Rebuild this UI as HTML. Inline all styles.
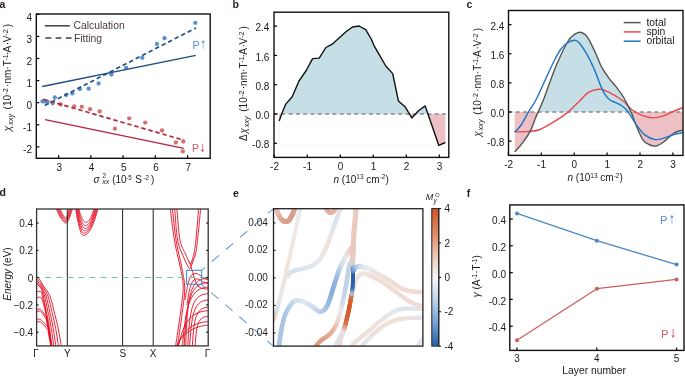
<!DOCTYPE html>
<html><head><meta charset="utf-8"><title>figure</title>
<style>html,body{margin:0;padding:0;background:#fff;width:685px;height:376px;overflow:hidden}svg{display:block;will-change:transform}text{font-family:"Liberation Sans",sans-serif}</style>
</head><body>
<svg width="685" height="376" viewBox="0 0 685 376">
<rect width="685" height="376" fill="#fff"/>
<text x="-0.50" y="7.70" font-size="10.5" text-anchor="start" fill="#2a1c1c" font-weight="bold">a</text>
<text x="232.40" y="7.70" font-size="10.5" text-anchor="start" fill="#2a1c1c" font-weight="bold">b</text>
<text x="466.60" y="7.70" font-size="10.5" text-anchor="start" fill="#2a1c1c" font-weight="bold">c</text>
<text x="-0.40" y="196.00" font-size="10.5" text-anchor="start" fill="#2a1c1c" font-weight="bold">d</text>
<text x="233.00" y="197.00" font-size="10.5" text-anchor="start" fill="#2a1c1c" font-weight="bold">e</text>
<text x="466.80" y="196.50" font-size="10.5" text-anchor="start" fill="#2a1c1c" font-weight="bold">f</text>
<circle cx="60.7" cy="104.5" r="2.15" fill="#d0605f" fill-opacity="0.9"/>
<circle cx="74.2" cy="106.3" r="2.15" fill="#d0605f" fill-opacity="0.9"/>
<circle cx="81.8" cy="106.8" r="2.15" fill="#d0605f" fill-opacity="0.9"/>
<circle cx="90" cy="109.2" r="2.15" fill="#d0605f" fill-opacity="0.9"/>
<circle cx="99.7" cy="111.4" r="2.15" fill="#d0605f" fill-opacity="0.9"/>
<circle cx="114.9" cy="128.7" r="2.15" fill="#d0605f" fill-opacity="0.9"/>
<circle cx="129.2" cy="118.3" r="2.15" fill="#d0605f" fill-opacity="0.9"/>
<circle cx="145.2" cy="122.6" r="2.15" fill="#d0605f" fill-opacity="0.9"/>
<circle cx="162" cy="130.4" r="2.15" fill="#d0605f" fill-opacity="0.9"/>
<circle cx="175.9" cy="142.5" r="2.15" fill="#d0605f" fill-opacity="0.9"/>
<circle cx="183.3" cy="141.5" r="2.15" fill="#d0605f" fill-opacity="0.9"/>
<circle cx="182.8" cy="151.4" r="2.15" fill="#d0605f" fill-opacity="0.9"/>
<circle cx="42.5" cy="101.4" r="2.15" fill="#4f8ccb" fill-opacity="0.95"/>
<circle cx="45.2" cy="101.6" r="2.15" fill="#4f8ccb" fill-opacity="0.95"/>
<circle cx="47.6" cy="101.8" r="2.15" fill="#4f8ccb" fill-opacity="0.95"/>
<circle cx="52.6" cy="103.3" r="2.15" fill="#4f8ccb" fill-opacity="0.95"/>
<circle cx="54.9" cy="97.5" r="2.15" fill="#4f8ccb" fill-opacity="0.95"/>
<circle cx="66.2" cy="95.1" r="2.15" fill="#4f8ccb" fill-opacity="0.95"/>
<circle cx="72.3" cy="93.4" r="2.15" fill="#4f8ccb" fill-opacity="0.95"/>
<circle cx="79.9" cy="89.1" r="2.15" fill="#4f8ccb" fill-opacity="0.95"/>
<circle cx="88.7" cy="88.7" r="2.15" fill="#4f8ccb" fill-opacity="0.95"/>
<circle cx="98.6" cy="83.5" r="2.15" fill="#4f8ccb" fill-opacity="0.95"/>
<circle cx="111.4" cy="74.6" r="2.15" fill="#4f8ccb" fill-opacity="0.95"/>
<circle cx="126.2" cy="67.9" r="2.15" fill="#4f8ccb" fill-opacity="0.95"/>
<circle cx="142.3" cy="57.8" r="2.15" fill="#4f8ccb" fill-opacity="0.95"/>
<circle cx="156.9" cy="43.9" r="2.15" fill="#4f8ccb" fill-opacity="0.95"/>
<circle cx="164.5" cy="38.2" r="2.15" fill="#4f8ccb" fill-opacity="0.95"/>
<circle cx="195.3" cy="22.8" r="2.15" fill="#4f8ccb" fill-opacity="0.95"/>
<line x1="42.20" y1="86.50" x2="195.80" y2="55.40" stroke="#1f4f82" stroke-width="1.3" />
<line x1="42.20" y1="106.80" x2="195.90" y2="27.90" stroke="#1f4f82" stroke-width="1.7" stroke-dasharray="4.3,3.0" stroke-dashoffset="4.4"/>
<line x1="45.00" y1="119.60" x2="183.80" y2="148.30" stroke="#b4243a" stroke-width="1.3" />
<line x1="42.20" y1="99.00" x2="183.80" y2="140.20" stroke="#b4243a" stroke-width="1.7" stroke-dasharray="4.4,2.9" stroke-dashoffset="6.2"/>
<rect x="36.30" y="14.00" width="173.90" height="144.30" fill="none" stroke="#111" stroke-width="1.4"/>
<line x1="36.30" y1="146.90" x2="39.30" y2="146.90" stroke="#000" stroke-width="1.2" />
<text x="32.00" y="153.20" font-size="10" text-anchor="end" fill="#1a1a1a" >-2</text>
<line x1="36.30" y1="124.80" x2="39.30" y2="124.80" stroke="#000" stroke-width="1.2" />
<text x="32.00" y="131.10" font-size="10" text-anchor="end" fill="#1a1a1a" >-1</text>
<line x1="36.30" y1="102.70" x2="39.30" y2="102.70" stroke="#000" stroke-width="1.2" />
<text x="32.00" y="109.00" font-size="10" text-anchor="end" fill="#1a1a1a" >0</text>
<line x1="36.30" y1="80.60" x2="39.30" y2="80.60" stroke="#000" stroke-width="1.2" />
<text x="32.00" y="86.90" font-size="10" text-anchor="end" fill="#1a1a1a" >1</text>
<line x1="36.30" y1="58.50" x2="39.30" y2="58.50" stroke="#000" stroke-width="1.2" />
<text x="32.00" y="64.80" font-size="10" text-anchor="end" fill="#1a1a1a" >2</text>
<line x1="36.30" y1="36.40" x2="39.30" y2="36.40" stroke="#000" stroke-width="1.2" />
<text x="32.00" y="42.70" font-size="10" text-anchor="end" fill="#1a1a1a" >3</text>
<line x1="36.30" y1="14.30" x2="39.30" y2="14.30" stroke="#000" stroke-width="1.2" />
<text x="32.00" y="20.60" font-size="10" text-anchor="end" fill="#1a1a1a" >4</text>
<line x1="58.60" y1="158.30" x2="58.60" y2="155.30" stroke="#000" stroke-width="1.2" />
<text x="59.40" y="170.80" font-size="10" text-anchor="middle" fill="#1a1a1a" >3</text>
<line x1="90.85" y1="158.30" x2="90.85" y2="155.30" stroke="#000" stroke-width="1.2" />
<text x="91.65" y="170.80" font-size="10" text-anchor="middle" fill="#1a1a1a" >4</text>
<line x1="123.10" y1="158.30" x2="123.10" y2="155.30" stroke="#000" stroke-width="1.2" />
<text x="123.90" y="170.80" font-size="10" text-anchor="middle" fill="#1a1a1a" >5</text>
<line x1="155.35" y1="158.30" x2="155.35" y2="155.30" stroke="#000" stroke-width="1.2" />
<text x="156.15" y="170.80" font-size="10" text-anchor="middle" fill="#1a1a1a" >6</text>
<line x1="187.60" y1="158.30" x2="187.60" y2="155.30" stroke="#000" stroke-width="1.2" />
<text x="188.40" y="170.80" font-size="10" text-anchor="middle" fill="#1a1a1a" >7</text>
<line x1="44.80" y1="25.80" x2="69.90" y2="25.80" stroke="#4a3b39" stroke-width="1.5" />
<line x1="45.40" y1="37.90" x2="72.20" y2="37.90" stroke="#4a3b39" stroke-width="1.5" stroke-dasharray="5.8,4.4"/>
<text x="73.50" y="29.40" font-size="10.35" text-anchor="start" fill="#4a3b39" >Calculation</text>
<text x="73.90" y="41.50" font-size="10.35" text-anchor="start" fill="#4a3b39" >Fitting</text>
<text x="192.40" y="49.20" font-size="10.6" fill="#5b8fc9">P</text>
<path d="M203.10,48.80 L203.10,41.70" stroke="#a9c5e3" stroke-width="1.1" fill="none"/>
<path d="M201.20,42.60 L203.10,40.20 L205.00,42.60 Z" fill="#5b8fc9" stroke="none"/>
<text x="192.10" y="151.80" font-size="10.6" fill="#cf5f6b">P</text>
<path d="M202.60,143.70 L202.60,150.70" stroke="#dc8a93" stroke-width="1.1" fill="none"/>
<path d="M200.70,149.80 L202.60,152.20 L204.50,149.80 Z" fill="#cf5f6b" stroke="none"/>
<g transform="translate(11.10,131.90) rotate(-90)" fill="#1a1a1a"><text x="0.70" y="0.00" font-size="10" font-style="italic">&#967;</text><text x="7.00" y="2.00" font-size="7.3" font-style="italic">xxy</text><text x="22.50" y="0.00" font-size="10">(10</text><text x="37.50" y="-3.00" font-size="7">-2</text><text x="45.00" y="0.00" font-size="10">&#183;nm&#183;</text><text x="65.70" y="0.00" font-size="10">T</text><text x="71.40" y="-3.00" font-size="7">-1</text><text x="76.80" y="0.00" font-size="10">&#183;</text><text x="79.40" y="0.00" font-size="10">A</text><text x="86.60" y="0.00" font-size="10">&#183;</text><text x="89.60" y="0.00" font-size="10">V</text><text x="96.20" y="-3.00" font-size="7.4">-2</text><text x="104.60" y="0.00" font-size="10">)</text></g>
<g fill="#1a1a1a"><text x="93.6" y="182.9" font-size="10" font-style="italic">&#963;</text><text x="102.5" y="178.4" font-size="6.3">2</text><text x="102.2" y="183.6" font-size="7" font-style="italic">xx</text><text x="112.2" y="183.3" font-size="10">(10</text><text x="126.2" y="179.6" font-size="6.3">-5</text><text x="135.2" y="183.3" font-size="10">S</text><text x="143.4" y="179.6" font-size="6.3">-2</text><text x="151.0" y="183.3" font-size="10">)</text></g>
<path d="M279.2,114 L279.2,146 L438.8,146" fill="none" stroke="#f9f1f1" stroke-width="0.8"/>
<path d="M279.20,120.90 L281.66,114.00 L281.66,114.00 L279.20,114.00Z" fill="#ecc0c4" stroke="none"/>
<path d="M281.66,114.00 L281.80,113.60 L285.80,104.10 L292.20,96.70 L299.10,80.80 L306.20,70.50 L312.60,58.60 L319.20,58.10 L325.90,47.50 L332.20,44.20 L345.90,31.80 L352.50,27.00 L359.10,26.00 L365.70,29.60 L371.50,39.50 L374.40,46.40 L378.80,53.80 L385.80,66.00 L392.70,73.60 L398.40,100.90 L405.30,107.10 L409.45,114.00 L409.45,114.00 L281.66,114.00Z" fill="#c6dee6" stroke="none"/>
<path d="M409.45,114.00 L411.80,117.90 L415.43,114.00 L415.43,114.00 L409.45,114.00Z" fill="#ecc0c4" stroke="none"/>
<path d="M415.43,114.00 L418.50,110.70 L425.20,105.90 L427.99,114.00 L427.99,114.00 L415.43,114.00Z" fill="#c6dee6" stroke="none"/>
<path d="M427.99,114.00 L438.80,145.40 L445.30,142.50 L445.30,114.00 L427.99,114.00Z" fill="#ecc0c4" stroke="none"/>
<line x1="274.00" y1="114.00" x2="448.80" y2="114.00" stroke="#8a8a8a" stroke-width="1.4" stroke-dasharray="4,3.3"/>
<path d="M279.20,120.90 L281.80,113.60 L285.80,104.10 L292.20,96.70 L299.10,80.80 L306.20,70.50 L312.60,58.60 L319.20,58.10 L325.90,47.50 L332.20,44.20 L345.90,31.80 L352.50,27.00 L359.10,26.00 L365.70,29.60 L371.50,39.50 L374.40,46.40 L378.80,53.80 L385.80,66.00 L392.70,73.60 L398.40,100.90 L405.30,107.10 L411.80,117.90 L418.50,110.70 L425.20,105.90 L438.80,145.40 L445.30,142.50" stroke="#111" stroke-width="1.4" fill="none" stroke-linejoin="round" />
<rect x="274.00" y="12.20" width="174.80" height="145.20" fill="none" stroke="#111" stroke-width="1.4"/>
<line x1="274.00" y1="26.16" x2="277.00" y2="26.16" stroke="#000" stroke-width="1.2" />
<text x="269.30" y="31.36" font-size="10" text-anchor="end" fill="#1a1a1a" >2.4</text>
<line x1="274.00" y1="55.44" x2="277.00" y2="55.44" stroke="#000" stroke-width="1.2" />
<text x="269.30" y="60.64" font-size="10" text-anchor="end" fill="#1a1a1a" >1.6</text>
<line x1="274.00" y1="84.72" x2="277.00" y2="84.72" stroke="#000" stroke-width="1.2" />
<text x="269.30" y="89.92" font-size="10" text-anchor="end" fill="#1a1a1a" >0.8</text>
<line x1="274.00" y1="114.00" x2="277.00" y2="114.00" stroke="#000" stroke-width="1.2" />
<text x="269.30" y="119.20" font-size="10" text-anchor="end" fill="#1a1a1a" >0.0</text>
<line x1="274.00" y1="143.28" x2="277.00" y2="143.28" stroke="#000" stroke-width="1.2" />
<text x="269.30" y="148.48" font-size="10" text-anchor="end" fill="#1a1a1a" >-0.8</text>
<line x1="274.30" y1="157.40" x2="274.30" y2="154.40" stroke="#000" stroke-width="1.2" />
<text x="274.50" y="170.30" font-size="10" text-anchor="middle" fill="#1a1a1a" >-2</text>
<line x1="307.30" y1="157.40" x2="307.30" y2="154.40" stroke="#000" stroke-width="1.2" />
<text x="307.50" y="170.30" font-size="10" text-anchor="middle" fill="#1a1a1a" >-1</text>
<line x1="340.30" y1="157.40" x2="340.30" y2="154.40" stroke="#000" stroke-width="1.2" />
<text x="340.50" y="170.30" font-size="10" text-anchor="middle" fill="#1a1a1a" >0</text>
<line x1="373.30" y1="157.40" x2="373.30" y2="154.40" stroke="#000" stroke-width="1.2" />
<text x="373.50" y="170.30" font-size="10" text-anchor="middle" fill="#1a1a1a" >1</text>
<line x1="406.30" y1="157.40" x2="406.30" y2="154.40" stroke="#000" stroke-width="1.2" />
<text x="406.50" y="170.30" font-size="10" text-anchor="middle" fill="#1a1a1a" >2</text>
<line x1="439.30" y1="157.40" x2="439.30" y2="154.40" stroke="#000" stroke-width="1.2" />
<text x="439.50" y="170.30" font-size="10" text-anchor="middle" fill="#1a1a1a" >3</text>
<g transform="translate(247.20,140.90) rotate(-90)" fill="#1a1a1a"><text x="0.00" y="0.00" font-size="10">&#916;</text><text x="7.40" y="0.00" font-size="10" font-style="italic">&#967;</text><text x="13.70" y="2.00" font-size="7.3" font-style="italic">xxy</text><text x="29.20" y="0.00" font-size="10">(10</text><text x="44.20" y="-3.00" font-size="7">-2</text><text x="51.70" y="0.00" font-size="10">&#183;nm&#183;</text><text x="72.40" y="0.00" font-size="10">T</text><text x="78.10" y="-3.00" font-size="7">-1</text><text x="83.50" y="0.00" font-size="10">&#183;</text><text x="86.10" y="0.00" font-size="10">A</text><text x="93.30" y="0.00" font-size="10">&#183;</text><text x="96.30" y="0.00" font-size="10">V</text><text x="102.90" y="-3.00" font-size="7.4">-2</text><text x="111.30" y="0.00" font-size="10">)</text></g>
<text x="333.5" y="182.5" font-size="10" fill="#1a1a1a"><tspan font-style="italic">n</tspan> (10<tspan font-size="6.5" dy="-3.5">13</tspan><tspan dy="3.5"> cm</tspan><tspan font-size="6.5" dy="-3.5">-2</tspan><tspan dy="3.5">)</tspan></text>
<path d="M514.70,151.80 L515.29,151.15 L516.08,150.31 L517.01,149.32 L518.06,148.20 L519.16,146.99 L520.28,145.71 L521.38,144.40 L522.40,143.10 L523.40,141.76 L524.43,140.33 L525.48,138.84 L526.53,137.31 L527.56,135.75 L528.54,134.18 L529.46,132.62 L530.30,131.10 L531.06,129.57 L531.76,127.99 L532.40,126.40 L532.99,124.82 L533.55,123.27 L534.09,121.78 L534.60,120.38 L535.10,119.10 L535.56,117.98 L535.97,117.00 L536.33,116.14 L536.68,115.32 L537.03,114.52 L537.40,113.66 L537.82,112.70 L538.13,112.00 L538.13,112.00 L514.70,112.00Z" fill="#ecc0c4" stroke="none"/>
<path d="M538.13,112.00 L538.30,111.60 L538.83,110.41 L539.38,109.22 L539.95,107.98 L540.56,106.67 L541.21,105.25 L541.89,103.69 L542.62,101.95 L543.40,100.00 L544.26,97.76 L545.20,95.21 L546.19,92.46 L547.22,89.58 L548.27,86.67 L549.29,83.81 L550.28,81.09 L551.20,78.60 L552.03,76.37 L552.79,74.32 L553.50,72.39 L554.19,70.52 L554.91,68.66 L555.68,66.75 L556.53,64.71 L557.50,62.50 L558.62,60.01 L559.89,57.26 L561.24,54.36 L562.64,51.42 L564.05,48.56 L565.41,45.87 L566.67,43.48 L567.80,41.50 L568.79,39.93 L569.69,38.68 L570.52,37.68 L571.29,36.89 L572.03,36.24 L572.75,35.68 L573.46,35.15 L574.20,34.60 L574.94,34.05 L575.67,33.58 L576.38,33.17 L577.09,32.83 L577.78,32.57 L578.46,32.37 L579.13,32.25 L579.80,32.20 L580.46,32.24 L581.12,32.36 L581.76,32.57 L582.40,32.84 L583.02,33.18 L583.63,33.55 L584.23,33.96 L584.80,34.40 L585.33,34.81 L585.79,35.20 L586.23,35.60 L586.66,36.06 L587.10,36.61 L587.59,37.31 L588.15,38.19 L588.80,39.30 L589.57,40.70 L590.43,42.37 L591.37,44.24 L592.35,46.24 L593.34,48.31 L594.32,50.37 L595.25,52.36 L596.10,54.20 L596.87,55.93 L597.58,57.63 L598.25,59.29 L598.89,60.93 L599.54,62.54 L600.21,64.12 L600.93,65.67 L601.70,67.20 L602.54,68.71 L603.44,70.20 L604.37,71.66 L605.32,73.10 L606.28,74.50 L607.24,75.85 L608.19,77.16 L609.10,78.40 L609.98,79.55 L610.84,80.60 L611.69,81.58 L612.53,82.52 L613.38,83.46 L614.23,84.43 L615.10,85.47 L616.00,86.60 L616.93,87.81 L617.88,89.05 L618.85,90.34 L619.82,91.66 L620.81,93.04 L621.78,94.47 L622.75,95.95 L623.70,97.50 L624.65,99.14 L625.60,100.87 L626.55,102.67 L627.50,104.52 L628.43,106.39 L629.33,108.26 L630.19,110.10 L631.00,111.90 L631.04,112.00 L631.04,112.00 L538.13,112.00Z" fill="#c6dee6" stroke="none"/>
<path d="M631.04,112.00 L631.75,113.65 L632.44,115.39 L633.09,117.11 L633.71,118.83 L634.32,120.54 L634.94,122.26 L635.60,123.97 L636.30,125.70 L637.05,127.49 L637.82,129.38 L638.62,131.30 L639.44,133.21 L640.26,135.04 L641.08,136.76 L641.90,138.29 L642.70,139.60 L643.49,140.67 L644.27,141.54 L645.04,142.25 L645.82,142.82 L646.60,143.31 L647.39,143.72 L648.18,144.11 L649.00,144.50 L649.83,144.89 L650.65,145.25 L651.49,145.57 L652.34,145.82 L653.20,146.01 L654.08,146.11 L654.98,146.11 L655.90,146.00 L656.85,145.76 L657.83,145.41 L658.84,144.95 L659.86,144.41 L660.89,143.79 L661.93,143.13 L662.96,142.43 L664.00,141.70 L665.05,140.90 L666.13,139.97 L667.22,138.97 L668.31,137.94 L669.38,136.91 L670.43,135.93 L671.44,135.05 L672.40,134.30 L673.31,133.67 L674.20,133.12 L675.06,132.64 L675.89,132.22 L676.68,131.86 L677.43,131.54 L678.14,131.26 L678.80,131.00 L679.43,130.79 L680.02,130.65 L680.58,130.55 L681.10,130.49 L681.57,130.46 L681.98,130.44 L682.32,130.43 L682.60,130.40 L682.60,112.00 L631.04,112.00Z" fill="#ecc0c4" stroke="none"/>
<path d="M514.7,131 L514.7,151.3 L682.5,151.3" fill="none" stroke="#f9f1f1" stroke-width="0.8"/>
<line x1="508.50" y1="112.00" x2="683.00" y2="112.00" stroke="#8a8a8a" stroke-width="1.4" stroke-dasharray="4,3.3"/>
<path d="M514.70,131.90 C517.03,131.82 524.50,131.80 528.70,131.40 C532.90,131.00 535.38,131.28 539.90,129.50 C544.42,127.72 551.02,123.68 555.80,120.70 C560.58,117.72 564.83,114.68 568.60,111.60 C572.37,108.52 575.07,105.40 578.40,102.20 C581.73,99.00 585.03,94.57 588.60,92.40 C592.17,90.23 596.07,89.05 599.80,89.20 C603.53,89.35 607.05,91.28 611.00,93.30 C614.95,95.32 620.00,98.55 623.50,101.30 C627.00,104.05 628.80,107.40 632.00,109.80 C635.20,112.20 639.15,114.35 642.70,115.70 C646.25,117.05 649.75,117.90 653.30,117.90 C656.85,117.90 660.82,116.70 664.00,115.70 C667.18,114.70 669.30,113.23 672.40,111.90 C675.50,110.57 680.90,108.40 682.60,107.70" stroke="#e8484f" stroke-width="1.4" fill="none"/>
<path d="M514.70,151.80 C515.98,150.35 519.80,146.55 522.40,143.10 C525.00,139.65 528.18,135.10 530.30,131.10 C532.42,127.10 533.77,122.35 535.10,119.10 C536.43,115.85 536.92,114.78 538.30,111.60 C539.68,108.42 541.25,105.50 543.40,100.00 C545.55,94.50 548.85,84.85 551.20,78.60 C553.55,72.35 554.73,68.68 557.50,62.50 C560.27,56.32 565.02,46.15 567.80,41.50 C570.58,36.85 572.20,36.15 574.20,34.60 C576.20,33.05 578.03,32.23 579.80,32.20 C581.57,32.17 583.30,33.22 584.80,34.40 C586.30,35.58 586.92,36.00 588.80,39.30 C590.68,42.60 593.95,49.55 596.10,54.20 C598.25,58.85 599.53,63.17 601.70,67.20 C603.87,71.23 606.72,75.17 609.10,78.40 C611.48,81.63 613.57,83.42 616.00,86.60 C618.43,89.78 621.20,93.28 623.70,97.50 C626.20,101.72 628.90,107.20 631.00,111.90 C633.10,116.60 634.35,121.08 636.30,125.70 C638.25,130.32 640.58,136.47 642.70,139.60 C644.82,142.73 646.80,143.43 649.00,144.50 C651.20,145.57 653.40,146.47 655.90,146.00 C658.40,145.53 661.25,143.65 664.00,141.70 C666.75,139.75 669.93,136.08 672.40,134.30 C674.87,132.52 677.10,131.65 678.80,131.00 C680.50,130.35 681.97,130.50 682.60,130.40" stroke="#555555" stroke-width="1.4" fill="none"/>
<path d="M514.70,131.90 C515.72,130.83 518.47,128.88 520.80,125.50 C523.13,122.12 526.18,115.85 528.70,111.60 C531.22,107.35 532.98,105.65 535.90,100.00 C538.82,94.35 543.08,84.37 546.20,77.70 C549.32,71.03 552.20,64.70 554.60,60.00 C557.00,55.30 558.50,52.33 560.60,49.50 C562.70,46.67 564.88,44.53 567.20,43.00 C569.52,41.47 572.48,40.30 574.50,40.30 C576.52,40.30 577.25,40.68 579.30,43.00 C581.35,45.32 584.32,49.85 586.80,54.20 C589.28,58.55 591.88,63.82 594.20,69.10 C596.52,74.38 598.83,81.55 600.70,85.90 C602.57,90.25 603.85,92.85 605.40,95.20 C606.95,97.55 608.40,98.82 610.00,100.00 C611.60,101.18 613.10,101.38 615.00,102.30 C616.90,103.22 619.27,103.97 621.40,105.50 C623.53,107.03 625.32,108.30 627.80,111.50 C630.28,114.70 633.47,120.80 636.30,124.70 C639.13,128.60 641.62,132.42 644.80,134.90 C647.98,137.38 651.85,139.18 655.40,139.60 C658.95,140.02 662.90,138.28 666.10,137.40 C669.30,136.52 671.85,135.07 674.60,134.30 C677.35,133.53 681.27,133.05 682.60,132.80" stroke="#1f74c4" stroke-width="1.4" fill="none"/>
<rect x="508.50" y="10.50" width="174.50" height="144.90" fill="none" stroke="#111" stroke-width="1.4"/>
<line x1="508.50" y1="24.64" x2="511.50" y2="24.64" stroke="#000" stroke-width="1.2" />
<text x="504.30" y="29.94" font-size="10" text-anchor="end" fill="#1a1a1a" >2.4</text>
<line x1="508.50" y1="53.76" x2="511.50" y2="53.76" stroke="#000" stroke-width="1.2" />
<text x="504.30" y="59.06" font-size="10" text-anchor="end" fill="#1a1a1a" >1.6</text>
<line x1="508.50" y1="82.88" x2="511.50" y2="82.88" stroke="#000" stroke-width="1.2" />
<text x="504.30" y="88.18" font-size="10" text-anchor="end" fill="#1a1a1a" >0.8</text>
<line x1="508.50" y1="112.00" x2="511.50" y2="112.00" stroke="#000" stroke-width="1.2" />
<text x="504.30" y="117.30" font-size="10" text-anchor="end" fill="#1a1a1a" >0.0</text>
<line x1="508.50" y1="141.12" x2="511.50" y2="141.12" stroke="#000" stroke-width="1.2" />
<text x="504.30" y="146.42" font-size="10" text-anchor="end" fill="#1a1a1a" >-0.8</text>
<line x1="508.40" y1="155.40" x2="508.40" y2="152.40" stroke="#000" stroke-width="1.2" />
<text x="508.60" y="168.10" font-size="10" text-anchor="middle" fill="#1a1a1a" >-2</text>
<line x1="541.30" y1="155.40" x2="541.30" y2="152.40" stroke="#000" stroke-width="1.2" />
<text x="541.50" y="168.10" font-size="10" text-anchor="middle" fill="#1a1a1a" >-1</text>
<line x1="574.20" y1="155.40" x2="574.20" y2="152.40" stroke="#000" stroke-width="1.2" />
<text x="574.40" y="168.10" font-size="10" text-anchor="middle" fill="#1a1a1a" >0</text>
<line x1="607.10" y1="155.40" x2="607.10" y2="152.40" stroke="#000" stroke-width="1.2" />
<text x="607.30" y="168.10" font-size="10" text-anchor="middle" fill="#1a1a1a" >1</text>
<line x1="640.00" y1="155.40" x2="640.00" y2="152.40" stroke="#000" stroke-width="1.2" />
<text x="640.20" y="168.10" font-size="10" text-anchor="middle" fill="#1a1a1a" >2</text>
<line x1="672.90" y1="155.40" x2="672.90" y2="152.40" stroke="#000" stroke-width="1.2" />
<text x="673.10" y="168.10" font-size="10" text-anchor="middle" fill="#1a1a1a" >3</text>
<line x1="623.70" y1="22.60" x2="640.60" y2="22.60" stroke="#555555" stroke-width="1.5" />
<text x="646.40" y="25.70" font-size="10.35" text-anchor="start" fill="#1a1a1a" >total</text>
<line x1="623.70" y1="31.90" x2="640.60" y2="31.90" stroke="#e8484f" stroke-width="1.5" />
<text x="646.40" y="35.00" font-size="10.35" text-anchor="start" fill="#1a1a1a" >spin</text>
<line x1="623.70" y1="41.20" x2="640.60" y2="41.20" stroke="#1f74c4" stroke-width="1.5" />
<text x="646.40" y="44.30" font-size="10.35" text-anchor="start" fill="#1a1a1a" >orbital</text>
<g transform="translate(481.00,137.50) rotate(-90)" fill="#1a1a1a"><text x="0.71" y="0.00" font-size="10" font-style="italic">&#967;</text><text x="7.10" y="2.00" font-size="7.3" font-style="italic">xxy</text><text x="22.84" y="0.00" font-size="10">(10</text><text x="38.06" y="-3.00" font-size="7">-2</text><text x="45.67" y="0.00" font-size="10">&#183;nm&#183;</text><text x="66.69" y="0.00" font-size="10">T</text><text x="72.47" y="-3.00" font-size="7">-1</text><text x="77.95" y="0.00" font-size="10">&#183;</text><text x="80.59" y="0.00" font-size="10">A</text><text x="87.90" y="0.00" font-size="10">&#183;</text><text x="90.94" y="0.00" font-size="10">V</text><text x="97.64" y="-3.00" font-size="7.4">-2</text><text x="106.17" y="0.00" font-size="10">)</text></g>
<text x="567.5" y="181.3" font-size="10" fill="#1a1a1a"><tspan font-style="italic">n</tspan> (10<tspan font-size="6.5" dy="-3.5">13</tspan><tspan dy="3.5"> cm</tspan><tspan font-size="6.5" dy="-3.5">-2</tspan><tspan dy="3.5">)</tspan></text>
<defs><clipPath id="cd"><rect x="36.6" y="209" width="171.6" height="136.9"/></clipPath><clipPath id="ce"><rect x="273.5" y="208.7" width="149.4" height="137.4"/></clipPath></defs>
<g clip-path="url(#cd)" fill="none" stroke="#e50f25" stroke-width="0.92" stroke-linejoin="round"><path d="M34.50,284.60 C34.85,284.57 35.85,284.17 36.60,284.40 C37.35,284.63 38.18,285.15 39.00,286.00 C39.82,286.85 40.78,287.83 41.50,289.50 C42.22,291.17 42.55,292.58 43.30,296.00 C44.05,299.42 45.05,305.17 46.00,310.00 C46.95,314.83 48.02,319.00 49.00,325.00 C49.98,331.00 51.30,341.50 51.90,346.00 C52.50,350.50 52.48,351.00 52.60,352.00"/><path d="M34.50,282.98 C34.85,282.96 35.82,282.58 36.60,282.88 C37.38,283.18 38.32,283.81 39.20,284.80 C40.08,285.79 41.00,286.93 41.90,288.80 C42.80,290.67 43.64,292.30 44.62,296.00 C45.60,299.70 46.75,306.00 47.80,311.00 C48.85,316.00 49.91,320.17 50.90,326.00 C51.89,331.83 53.17,341.67 53.76,346.00 C54.35,350.33 54.34,351.00 54.46,352.00"/><path d="M34.50,281.20 C34.85,281.20 35.78,280.83 36.60,281.21 C37.42,281.59 38.46,282.34 39.42,283.48 C40.38,284.62 41.23,285.94 42.34,288.03 C43.45,290.12 44.83,291.99 46.07,296.00 C47.31,300.01 48.63,306.92 49.78,312.10 C50.93,317.28 51.99,321.45 52.99,327.10 C53.99,332.75 55.22,341.85 55.81,346.00 C56.39,350.15 56.39,351.00 56.51,352.00"/><path d="M34.50,278.93 C34.85,278.95 35.73,278.60 36.60,279.08 C37.47,279.56 38.65,280.47 39.70,281.80 C40.75,283.13 41.53,284.68 42.90,287.05 C44.27,289.42 46.35,291.59 47.92,296.00 C49.49,300.41 51.01,308.08 52.30,313.50 C53.59,318.92 54.63,323.08 55.65,328.50 C56.67,333.92 57.83,342.08 58.41,346.00 C58.99,349.92 58.99,351.00 59.11,352.00"/><path d="M34.50,276.50 C34.85,276.55 35.68,276.22 36.60,276.80 C37.52,277.38 38.85,278.47 40.00,280.00 C41.15,281.53 41.85,283.33 43.50,286.00 C45.15,288.67 47.98,291.17 49.90,296.00 C51.82,300.83 53.57,309.33 55.00,315.00 C56.43,320.67 57.47,324.83 58.50,330.00 C59.53,335.17 60.63,342.33 61.20,346.00 C61.77,349.67 61.78,351.00 61.90,352.00"/><path d="M34.50,292.70 C34.85,292.62 35.85,292.43 36.60,292.20 C37.35,291.97 38.18,291.27 39.00,291.30 C39.82,291.33 40.92,291.45 41.50,292.40 C42.08,293.35 42.18,295.73 42.47,297.00 C42.77,298.27 42.78,297.83 43.27,300.00 C43.77,302.17 44.06,302.33 45.44,310.00 C46.82,317.67 50.44,339.00 51.58,346.00 C52.72,353.00 52.16,351.00 52.28,352.00"/><path d="M34.50,298.50 C34.85,298.42 35.85,298.23 36.60,298.00 C37.35,297.77 38.18,297.07 39.00,297.10 C39.82,297.13 40.78,297.13 41.50,298.20 C42.22,299.27 42.89,302.12 43.33,303.50 C43.76,304.88 43.60,304.33 44.12,306.50 C44.65,308.67 45.24,309.92 46.46,316.50 C47.68,323.08 50.48,340.08 51.42,346.00 C52.36,351.92 52.00,351.00 52.12,352.00"/><path d="M34.50,310.50 C34.85,310.42 35.85,310.23 36.60,310.00 C37.35,309.77 38.18,309.07 39.00,309.10 C39.82,309.13 40.30,308.88 41.50,310.20 C42.70,311.52 45.28,315.37 46.20,317.00 C47.12,318.63 46.53,317.83 47.00,320.00 C47.47,322.17 48.24,325.67 48.99,330.00 C49.74,334.33 50.97,342.33 51.50,346.00 C52.03,349.67 52.08,351.00 52.20,352.00"/><path d="M34.50,312.50 C34.85,312.42 35.85,312.23 36.60,312.00 C37.35,311.77 38.18,311.07 39.00,311.10 C39.82,311.13 40.33,310.88 41.50,312.20 C42.67,313.52 45.12,317.37 46.00,319.00 C46.88,320.63 46.33,319.83 46.80,322.00 C47.27,324.17 48.10,328.00 48.85,332.00 C49.59,336.00 50.74,342.67 51.26,346.00 C51.78,349.33 51.84,351.00 51.96,352.00"/><path d="M34.50,320.50 C34.85,320.42 35.85,320.23 36.60,320.00 C37.35,319.77 38.18,319.07 39.00,319.10 C39.82,319.13 40.03,318.88 41.50,320.20 C42.97,321.52 46.61,325.37 47.79,327.00 C48.97,328.63 48.17,327.83 48.59,330.00 C49.01,332.17 49.82,337.33 50.30,340.00 C50.78,342.67 51.15,344.00 51.46,346.00 C51.77,348.00 52.04,351.00 52.16,352.00"/><path d="M34.50,323.00 C34.85,322.92 35.85,322.73 36.60,322.50 C37.35,322.27 38.18,321.57 39.00,321.60 C39.82,321.63 40.09,321.38 41.50,322.70 C42.91,324.02 46.31,327.87 47.44,329.50 C48.56,331.13 47.78,330.33 48.24,332.50 C48.69,334.67 49.67,340.25 50.16,342.50 C50.65,344.75 50.89,344.42 51.18,346.00 C51.47,347.58 51.76,351.00 51.88,352.00"/><path d="M59.30,206.50 L59.62,207.39 L59.95,208.25 L60.27,209.09 L60.60,209.89 L60.92,210.67 L61.25,211.41 L61.57,212.13 L61.90,212.81 L62.22,213.46 L62.55,214.07 L62.88,214.65 L63.20,215.19 L63.52,215.69 L63.85,216.15 L64.17,216.57 L64.50,216.94 L64.83,217.26 L65.15,217.52 L65.47,217.71 L65.80,217.80 L66.00,217.71 L66.20,217.52 L66.40,217.26 L66.60,216.94 L66.80,216.57 L67.00,216.15 L67.20,215.69 L67.40,215.19 L67.60,214.65 L67.80,214.07 L68.00,213.46 L68.20,212.81 L68.40,212.13 L68.60,211.41 L68.80,210.67 L69.00,209.89 L69.20,209.09 L69.40,208.25 L69.60,207.39 L69.80,206.50"/><path d="M58.30,206.50 L58.68,207.50 L59.05,208.46 L59.43,209.40 L59.81,210.30 L60.19,211.17 L60.56,212.00 L60.94,212.80 L61.32,213.56 L61.70,214.29 L62.07,214.98 L62.45,215.62 L62.83,216.23 L63.21,216.79 L63.58,217.31 L63.96,217.77 L64.34,218.19 L64.72,218.54 L65.09,218.83 L65.47,219.05 L65.85,219.15 L66.09,219.05 L66.32,218.83 L66.56,218.54 L66.80,218.19 L67.04,217.77 L67.28,217.31 L67.51,216.79 L67.75,216.23 L67.99,215.62 L68.22,214.98 L68.46,214.29 L68.70,213.56 L68.94,212.80 L69.18,212.00 L69.41,211.17 L69.65,210.30 L69.89,209.40 L70.12,208.46 L70.36,207.50 L70.60,206.50"/><path d="M57.30,206.50 L57.73,207.60 L58.16,208.67 L58.59,209.71 L59.02,210.70 L59.45,211.66 L59.88,212.59 L60.31,213.47 L60.74,214.32 L61.17,215.12 L61.60,215.88 L62.03,216.60 L62.46,217.27 L62.89,217.89 L63.32,218.46 L63.75,218.98 L64.18,219.43 L64.61,219.83 L65.04,220.15 L65.47,220.38 L65.90,220.50 L66.17,220.38 L66.45,220.15 L66.72,219.83 L67.00,219.43 L67.27,218.98 L67.55,218.46 L67.83,217.89 L68.10,217.27 L68.38,216.60 L68.65,215.88 L68.92,215.12 L69.20,214.32 L69.47,213.47 L69.75,212.59 L70.03,211.66 L70.30,210.70 L70.58,209.71 L70.85,208.67 L71.12,207.60 L71.40,206.50"/><path d="M56.30,206.50 L56.78,207.71 L57.27,208.88 L57.75,210.01 L58.23,211.11 L58.71,212.16 L59.20,213.18 L59.68,214.15 L60.16,215.07 L60.64,215.95 L61.12,216.79 L61.61,217.57 L62.09,218.31 L62.57,218.99 L63.05,219.61 L63.54,220.18 L64.02,220.68 L64.50,221.11 L64.98,221.46 L65.47,221.72 L65.95,221.85 L66.26,221.72 L66.58,221.46 L66.89,221.11 L67.20,220.68 L67.51,220.18 L67.83,219.61 L68.14,218.99 L68.45,218.31 L68.76,217.57 L69.08,216.79 L69.39,215.95 L69.70,215.07 L70.01,214.15 L70.33,213.18 L70.64,212.16 L70.95,211.11 L71.26,210.01 L71.58,208.88 L71.89,207.71 L72.20,206.50"/><path d="M55.30,206.50 L55.83,207.82 L56.37,209.09 L56.91,210.32 L57.44,211.51 L57.97,212.66 L58.51,213.76 L59.04,214.82 L59.58,215.83 L60.11,216.78 L60.65,217.69 L61.19,218.55 L61.72,219.35 L62.25,220.09 L62.79,220.77 L63.33,221.38 L63.86,221.93 L64.39,222.40 L64.93,222.78 L65.47,223.06 L66.00,223.20 L66.35,223.06 L66.70,222.78 L67.05,222.40 L67.40,221.93 L67.75,221.38 L68.10,220.77 L68.45,220.09 L68.80,219.35 L69.15,218.55 L69.50,217.69 L69.85,216.78 L70.20,215.83 L70.55,214.82 L70.90,213.76 L71.25,212.66 L71.60,211.51 L71.95,210.32 L72.30,209.09 L72.65,207.82 L73.00,206.50"/><path d="M78.20,206.50 L78.59,208.04 L78.98,209.50 L79.37,210.88 L79.76,212.19 L80.15,213.41 L80.54,214.56 L80.93,215.62 L81.32,216.61 L81.71,217.52 L82.10,218.35 L82.49,219.10 L82.88,219.77 L83.27,220.36 L83.66,220.88 L84.05,221.31 L84.44,221.67 L84.83,221.94 L85.22,222.14 L85.61,222.26 L86.00,222.30 L86.43,222.26 L86.86,222.14 L87.29,221.94 L87.72,221.67 L88.15,221.31 L88.58,220.88 L89.01,220.36 L89.44,219.77 L89.87,219.10 L90.30,218.35 L90.73,217.52 L91.16,216.61 L91.59,215.62 L92.02,214.56 L92.45,213.41 L92.88,212.19 L93.31,210.88 L93.74,209.50 L94.17,208.04 L94.60,206.50"/><path d="M77.64,206.50 L78.03,208.36 L78.43,210.13 L78.82,211.80 L79.22,213.38 L79.61,214.86 L80.00,216.24 L80.40,217.53 L80.79,218.72 L81.19,219.82 L81.58,220.82 L81.97,221.73 L82.37,222.54 L82.76,223.26 L83.16,223.88 L83.55,224.41 L83.94,224.84 L84.34,225.17 L84.73,225.41 L85.13,225.55 L85.52,225.60 L86.01,225.55 L86.51,225.41 L87.00,225.17 L87.50,224.84 L87.99,224.41 L88.48,223.88 L88.98,223.26 L89.47,222.54 L89.97,221.73 L90.46,220.82 L90.95,219.82 L91.45,218.72 L91.94,217.53 L92.44,216.24 L92.93,214.86 L93.42,213.38 L93.92,211.80 L94.41,210.13 L94.91,208.36 L95.40,206.50"/><path d="M77.08,206.50 L77.48,208.64 L77.88,210.66 L78.27,212.58 L78.67,214.38 L79.07,216.08 L79.47,217.67 L79.87,219.15 L80.26,220.52 L80.66,221.78 L81.06,222.93 L81.46,223.97 L81.86,224.90 L82.25,225.72 L82.65,226.43 L83.05,227.03 L83.45,227.52 L83.85,227.91 L84.24,228.18 L84.64,228.35 L85.04,228.40 L85.60,228.35 L86.16,228.18 L86.71,227.91 L87.27,227.52 L87.83,227.03 L88.39,226.43 L88.95,225.72 L89.50,224.90 L90.06,223.97 L90.62,222.93 L91.18,221.78 L91.74,220.52 L92.29,219.15 L92.85,217.67 L93.41,216.08 L93.97,214.38 L94.53,212.58 L95.08,210.66 L95.64,208.64 L96.20,206.50"/><path d="M76.52,206.50 L76.92,208.88 L77.32,211.14 L77.73,213.27 L78.13,215.28 L78.53,217.18 L78.93,218.94 L79.33,220.59 L79.74,222.12 L80.14,223.52 L80.54,224.80 L80.94,225.96 L81.34,227.00 L81.75,227.91 L82.15,228.70 L82.55,229.38 L82.95,229.92 L83.35,230.35 L83.76,230.66 L84.16,230.84 L84.56,230.90 L85.18,230.84 L85.80,230.66 L86.43,230.35 L87.05,229.92 L87.67,229.38 L88.29,228.70 L88.91,227.91 L89.54,227.00 L90.16,225.96 L90.78,224.80 L91.40,223.52 L92.02,222.12 L92.65,220.59 L93.27,218.94 L93.89,217.18 L94.51,215.28 L95.13,213.27 L95.76,211.14 L96.38,208.88 L97.00,206.50"/><path d="M75.96,206.50 L76.37,209.10 L76.77,211.57 L77.18,213.91 L77.58,216.11 L77.99,218.18 L78.40,220.12 L78.80,221.92 L79.21,223.59 L79.61,225.12 L80.02,226.52 L80.43,227.79 L80.83,228.93 L81.24,229.93 L81.64,230.80 L82.05,231.53 L82.46,232.13 L82.86,232.60 L83.27,232.93 L83.67,233.13 L84.08,233.20 L84.77,233.13 L85.45,232.93 L86.14,232.60 L86.82,232.13 L87.51,231.53 L88.20,230.80 L88.88,229.93 L89.57,228.93 L90.25,227.79 L90.94,226.52 L91.63,225.12 L92.31,223.59 L93.00,221.92 L93.68,220.12 L94.37,218.18 L95.06,216.11 L95.74,213.91 L96.43,211.57 L97.11,209.10 L97.80,206.50"/><path d="M75.40,206.50 L75.81,209.32 L76.22,211.99 L76.63,214.52 L77.04,216.90 L77.45,219.14 L77.86,221.24 L78.27,223.19 L78.68,225.00 L79.09,226.66 L79.50,228.18 L79.91,229.55 L80.32,230.78 L80.73,231.86 L81.14,232.80 L81.55,233.59 L81.96,234.24 L82.37,234.75 L82.78,235.11 L83.19,235.33 L83.60,235.40 L84.35,235.33 L85.10,235.11 L85.85,234.75 L86.60,234.24 L87.35,233.59 L88.10,232.80 L88.85,231.86 L89.60,230.78 L90.35,229.55 L91.10,228.18 L91.85,226.66 L92.60,225.00 L93.35,223.19 L94.10,221.24 L94.85,219.14 L95.60,216.90 L96.35,214.52 L97.10,211.99 L97.85,209.32 L98.60,206.50"/><path d="M176.50,204.00 C176.57,204.83 176.32,203.00 176.90,209.00 C177.48,215.00 178.57,232.50 180.00,240.00 C181.43,247.50 184.00,250.33 185.50,254.00 C187.00,257.67 188.20,260.33 189.00,262.00 C189.80,263.67 189.87,264.00 190.30,264.00 C190.73,264.00 190.93,264.00 191.60,262.00 C192.27,260.00 193.58,255.67 194.30,252.00 C195.02,248.33 195.18,247.17 195.90,240.00 C196.62,232.83 198.10,215.00 198.60,209.00 C199.10,203.00 198.85,204.83 198.90,204.00"/><path d="M174.30,204.00 C174.37,204.83 174.15,203.00 174.70,209.00 C175.25,215.00 176.13,232.00 177.60,240.00 C179.07,248.00 181.77,252.58 183.50,257.00 C185.23,261.42 187.00,264.53 188.00,266.50 C189.00,268.47 189.00,268.80 189.50,268.80 C190.00,268.80 190.00,268.97 191.00,266.50 C192.00,264.03 194.42,258.42 195.50,254.00 C196.58,249.58 196.65,247.50 197.50,240.00 C198.35,232.50 200.03,215.00 200.60,209.00 C201.17,203.00 200.85,204.83 200.90,204.00"/><path d="M170.00,204.00 C170.07,204.83 169.67,203.00 170.40,209.00 C171.13,215.00 172.80,230.50 174.40,240.00 C176.00,249.50 178.53,258.50 180.00,266.00 C181.47,273.50 182.95,278.50 183.20,285.00 C183.45,291.50 182.37,297.50 181.50,305.00 C180.63,312.50 179.08,322.50 178.00,330.00 C176.92,337.50 175.50,346.67 175.00,350.00"/><path d="M172.10,204.00 C172.17,204.83 171.85,203.00 172.50,209.00 C173.15,215.00 174.50,230.50 176.00,240.00 C177.50,249.50 180.05,258.17 181.50,266.00 C182.95,273.83 184.45,280.17 184.70,287.00 C184.95,293.83 183.82,299.83 183.00,307.00 C182.18,314.17 180.80,322.83 179.80,330.00 C178.80,337.17 177.47,346.67 177.00,350.00"/><path d="M185.00,300.00 C185.42,297.67 186.50,290.00 187.50,286.00 C188.50,282.00 189.58,278.08 191.00,276.00 C192.42,273.92 194.33,273.50 196.00,273.50 C197.67,273.50 199.50,275.08 201.00,276.00 C202.50,276.92 203.50,278.42 205.00,279.00 C206.50,279.58 209.17,279.42 210.00,279.50"/><path d="M187.00,305.00 C187.42,302.50 188.50,294.00 189.50,290.00 C190.50,286.00 191.58,282.83 193.00,281.00 C194.42,279.17 196.33,278.83 198.00,279.00 C199.67,279.17 201.00,281.17 203.00,282.00 C205.00,282.83 208.83,283.67 210.00,284.00"/><path d="M189.50,262.00 C189.92,263.33 191.08,267.00 192.00,270.00 C192.92,273.00 194.00,277.33 195.00,280.00 C196.00,282.67 196.67,284.58 198.00,286.00 C199.33,287.42 201.00,288.00 203.00,288.50 C205.00,289.00 208.83,288.92 210.00,289.00"/><path d="M210.00,278.00 C189.00,278.00 187.38,295.00 185.50,352.00"/><path d="M210.00,282.50 C190.00,282.50 186.43,298.38 183.90,352.00"/><path d="M210.00,287.10 C191.00,287.10 185.32,301.83 182.10,352.00"/><path d="M210.00,293.60 C192.00,293.60 189.62,306.70 187.50,352.00"/><path d="M210.00,299.90 C194.00,299.90 191.48,311.42 189.30,352.00"/><path d="M210.00,307.10 C195.50,307.10 193.88,316.83 192.00,352.00"/><path d="M210.00,310.70 C193.00,310.70 182.45,319.52 177.60,352.00"/><path d="M210.00,316.20 C197.50,316.20 196.40,323.65 194.70,352.00"/><path d="M210.00,321.60 C196.00,321.60 181.85,327.70 175.80,352.00"/><path d="M210.00,325.20 C198.50,325.20 181.12,330.40 174.00,352.00"/></g>
<line x1="67.30" y1="209.00" x2="67.30" y2="345.90" stroke="#222" stroke-width="1.0" />
<line x1="122.60" y1="209.00" x2="122.60" y2="345.90" stroke="#222" stroke-width="1.0" />
<line x1="153.20" y1="209.00" x2="153.20" y2="345.90" stroke="#222" stroke-width="1.0" />
<line x1="36.60" y1="277.50" x2="208.20" y2="277.50" stroke="#72c4a8" stroke-width="1.0" stroke-dasharray="6,5.1" stroke-dashoffset="2.7"/>
<rect x="36.60" y="209.00" width="171.60" height="136.90" fill="none" stroke="#333" stroke-width="1.3"/>
<line x1="36.60" y1="223.00" x2="38.60" y2="223.00" stroke="#000" stroke-width="1.0" />
<line x1="208.20" y1="223.00" x2="206.20" y2="223.00" stroke="#000" stroke-width="1.0" />
<text x="33.20" y="226.90" font-size="10" text-anchor="end" fill="#1a1a1a" >0.4</text>
<line x1="36.60" y1="250.30" x2="38.60" y2="250.30" stroke="#000" stroke-width="1.0" />
<line x1="208.20" y1="250.30" x2="206.20" y2="250.30" stroke="#000" stroke-width="1.0" />
<text x="33.20" y="254.20" font-size="10" text-anchor="end" fill="#1a1a1a" >0.2</text>
<line x1="36.60" y1="277.60" x2="38.60" y2="277.60" stroke="#000" stroke-width="1.0" />
<line x1="208.20" y1="277.60" x2="206.20" y2="277.60" stroke="#000" stroke-width="1.0" />
<text x="33.20" y="281.50" font-size="10" text-anchor="end" fill="#1a1a1a" >0</text>
<line x1="36.60" y1="304.90" x2="38.60" y2="304.90" stroke="#000" stroke-width="1.0" />
<line x1="208.20" y1="304.90" x2="206.20" y2="304.90" stroke="#000" stroke-width="1.0" />
<text x="33.20" y="308.80" font-size="10" text-anchor="end" fill="#1a1a1a" >&#8722;0.2</text>
<line x1="36.60" y1="332.20" x2="38.60" y2="332.20" stroke="#000" stroke-width="1.0" />
<line x1="208.20" y1="332.20" x2="206.20" y2="332.20" stroke="#000" stroke-width="1.0" />
<text x="33.20" y="336.10" font-size="10" text-anchor="end" fill="#1a1a1a" >&#8722;0.4</text>
<text x="36.00" y="356.50" font-size="10" text-anchor="middle" fill="#1a1a1a" >&#915;</text>
<text x="67.30" y="356.50" font-size="10" text-anchor="middle" fill="#1a1a1a" >Y</text>
<text x="122.80" y="356.50" font-size="10" text-anchor="middle" fill="#1a1a1a" >S</text>
<text x="153.00" y="356.50" font-size="10" text-anchor="middle" fill="#1a1a1a" >X</text>
<text x="207.60" y="356.50" font-size="10" text-anchor="middle" fill="#1a1a1a" >&#915;</text>
<text transform="translate(11.3,274.0) rotate(-90)" font-size="10" text-anchor="middle" fill="#1a1a1a"><tspan font-style="italic">Energy</tspan> (eV)</text>
<rect x="186.6" y="270.3" width="15.0" height="14.0" fill="none" stroke="#4a8fd0" stroke-width="1.1"/>
<line x1="201.60" y1="270.30" x2="273.50" y2="208.70" stroke="#6f9ad6" stroke-width="1.1" stroke-dasharray="9.5,9" stroke-dashoffset="5"/>
<line x1="201.60" y1="284.30" x2="273.50" y2="346.10" stroke="#6f9ad6" stroke-width="1.1" stroke-dasharray="9.5,9" stroke-dashoffset="5.7"/>
<g clip-path="url(#ce)" fill="none"><g stroke-width="4.0" stroke-linecap="round"><path d="M301.0,205.0L300.5,207.5" stroke="#e5eaf1"/><path d="M300.5,207.5L299.7,210.8" stroke="#e7eaef"/><path d="M299.7,210.8L298.9,214.8" stroke="#e9e9ed"/><path d="M298.9,214.8L297.9,219.2" stroke="#eae9ea"/><path d="M297.9,219.2L296.9,223.7" stroke="#ece8e8"/><path d="M296.9,223.7L296.0,228.0" stroke="#eee8e6"/><path d="M296.0,228.0L295.0,232.4" stroke="#efe8e5"/><path d="M295.0,232.4L294.0,237.2" stroke="#efe8e4"/><path d="M294.0,237.2L292.9,242.1" stroke="#efe7e4"/><path d="M292.9,242.1L291.9,246.9" stroke="#f0e7e3"/><path d="M291.9,246.9L290.9,251.3" stroke="#f0e6e3"/><path d="M290.9,251.3L290.1,255.0" stroke="#f0e6e2"/><path d="M290.1,255.0L289.4,258.0" stroke="#f0e6e2"/><path d="M289.4,258.0L288.8,260.4" stroke="#f0e6e2"/><path d="M288.8,260.4L288.3,262.4" stroke="#f0e6e1"/><path d="M288.3,262.4L287.9,264.3" stroke="#f0e5e1"/><path d="M287.9,264.3L287.4,266.1" stroke="#f0e5e0"/><path d="M287.4,266.1L287.0,268.0" stroke="#f0e5e0"/><path d="M287.0,268.0L286.6,270.0" stroke="#f0e5e0"/><path d="M286.6,270.0L286.2,271.9" stroke="#f0e4df"/><path d="M286.2,271.9L285.8,273.7" stroke="#f0e4df"/><path d="M285.8,273.7L285.5,275.6" stroke="#efe4de"/><path d="M285.5,275.6L285.0,277.7" stroke="#efe4de"/><path d="M285.0,277.7L284.5,280.0" stroke="#efe3dd"/><path d="M284.5,280.0L283.9,282.7" stroke="#efe3de"/><path d="M283.9,282.7L283.1,285.7" stroke="#eee4e0"/><path d="M283.1,285.7L282.3,288.9" stroke="#ede4e2"/><path d="M282.3,288.9L281.5,292.1" stroke="#ede5e5"/><path d="M281.5,292.1L280.7,295.2" stroke="#ece5e7"/><path d="M280.7,295.2L280.0,298.0" stroke="#ebe6e9"/><path d="M280.0,298.0L279.3,300.5" stroke="#e9e6ea"/><path d="M279.3,300.5L278.7,302.9" stroke="#e6e5eb"/><path d="M278.7,302.9L278.0,305.1" stroke="#e2e4ec"/><path d="M278.0,305.1L277.4,307.2" stroke="#dfe3ed"/><path d="M277.4,307.2L276.9,309.2" stroke="#dbe2ee"/><path d="M276.9,309.2L276.3,311.0" stroke="#d8e1ef"/><path d="M276.3,311.0L275.8,312.6" stroke="#d8dfea"/><path d="M275.8,312.6L275.3,314.1" stroke="#dbdae1"/><path d="M275.3,314.1L274.8,315.4" stroke="#ded5d7"/><path d="M274.8,315.4L274.4,316.6" stroke="#e1d0ce"/><path d="M274.4,316.6L273.9,317.8" stroke="#e4cbc4"/><path d="M273.9,317.8L273.5,319.0" stroke="#e7c6bb"/><path d="M273.5,319.0L273.0,320.3" stroke="#e9c4b5"/><path d="M273.0,320.3L272.6,321.7" stroke="#e9c3b4"/><path d="M272.6,321.7L272.1,323.0" stroke="#e9c2b3"/><path d="M272.1,323.0L271.6,324.2" stroke="#e8c1b1"/><path d="M271.6,324.2L271.3,325.2" stroke="#e8c0b0"/><path d="M271.3,325.2L271.0,326.0" stroke="#e8bfaf"/></g><g stroke-width="4.2" stroke-linecap="round"><path d="M342.5,205.0L342.1,206.0" stroke="#eedcd6"/><path d="M342.1,206.0L341.5,207.3" stroke="#edded9"/><path d="M341.5,207.3L340.7,208.9" stroke="#ebdedc"/><path d="M340.7,208.9L340.0,210.6" stroke="#eae0df"/><path d="M340.0,210.6L339.2,212.3" stroke="#e8e0e2"/><path d="M339.2,212.3L338.5,214.0" stroke="#e7e2e5"/><path d="M338.5,214.0L337.9,215.6" stroke="#e5e2e7"/><path d="M337.9,215.6L337.2,217.2" stroke="#e3e2e8"/><path d="M337.2,217.2L336.6,218.8" stroke="#e1e2ea"/><path d="M336.6,218.8L336.0,220.5" stroke="#dee3eb"/><path d="M336.0,220.5L335.4,222.2" stroke="#dce3ed"/><path d="M335.4,222.2L334.7,224.0" stroke="#dae3ee"/><path d="M334.7,224.0L334.0,225.9" stroke="#dae3ee"/><path d="M334.0,225.9L333.3,227.9" stroke="#dde4ed"/><path d="M333.3,227.9L332.6,230.0" stroke="#dfe4eb"/><path d="M332.6,230.0L331.9,232.1" stroke="#e2e4ea"/><path d="M331.9,232.1L331.2,234.1" stroke="#e4e4e8"/><path d="M331.2,234.1L330.5,236.0" stroke="#e7e5e7"/><path d="M330.5,236.0L329.9,237.7" stroke="#e9e5e5"/><path d="M329.9,237.7L329.3,239.4" stroke="#eae4e4"/><path d="M329.3,239.4L328.7,241.0" stroke="#ebe4e2"/><path d="M328.7,241.0L328.1,242.5" stroke="#ece3e0"/><path d="M328.1,242.5L327.5,244.0" stroke="#ede3de"/><path d="M327.5,244.0L326.9,245.5" stroke="#eee2dd"/><path d="M326.9,245.5L326.3,247.0" stroke="#efe2dc"/><path d="M326.3,247.0L325.6,248.5" stroke="#efe2dd"/><path d="M325.6,248.5L324.9,249.9" stroke="#efe3de"/><path d="M324.9,249.9L324.2,251.3" stroke="#eee3de"/><path d="M324.2,251.3L323.6,252.5" stroke="#eee4df"/><path d="M323.6,252.5L323.0,253.7" stroke="#eee4e0"/><path d="M323.0,253.7L322.5,254.7" stroke="#eee4e1"/><path d="M322.5,254.7L322.0,255.6" stroke="#ede5e2"/><path d="M322.0,255.6L321.6,256.4" stroke="#ede5e3"/><path d="M321.6,256.4L321.3,257.2" stroke="#ece6e5"/><path d="M321.3,257.2L320.9,257.9" stroke="#ece6e6"/><path d="M320.9,257.9L320.5,258.5" stroke="#ebe7e7"/><path d="M320.5,258.5L320.1,259.1" stroke="#ebe7e8"/><path d="M320.1,259.1L319.8,259.5" stroke="#eae7e9"/><path d="M319.8,259.5L319.5,260.0" stroke="#eae7ea"/><path d="M319.5,260.0L319.2,260.3" stroke="#e9e8ea"/><path d="M319.2,260.3L318.8,260.8" stroke="#e9e8eb"/><path d="M318.8,260.8L318.4,261.2" stroke="#e8e8ec"/><path d="M318.4,261.2L317.8,261.7" stroke="#e8e8ec"/><path d="M317.8,261.7L317.2,262.2" stroke="#e7e8ec"/><path d="M317.2,262.2L316.5,262.8" stroke="#e6e8ed"/><path d="M316.5,262.8L315.8,263.3" stroke="#e6e8ed"/><path d="M315.8,263.3L315.1,263.8" stroke="#e5e8ee"/><path d="M315.1,263.8L314.5,264.3" stroke="#e4e8ee"/><path d="M314.5,264.3L313.9,264.7" stroke="#e4e8ee"/><path d="M313.9,264.7L313.4,265.0" stroke="#e3e8ee"/><path d="M313.4,265.0L312.9,265.4" stroke="#e3e8ee"/><path d="M312.9,265.4L312.4,265.7" stroke="#e2e7ef"/><path d="M312.4,265.7L311.8,266.0" stroke="#e2e7ef"/><path d="M311.8,266.0L311.0,266.3" stroke="#e1e7ef"/><path d="M311.0,266.3L310.0,266.6" stroke="#e1e7ef"/><path d="M310.0,266.6L308.9,267.0" stroke="#e0e6ef"/><path d="M308.9,267.0L307.7,267.3" stroke="#dfe6ef"/><path d="M307.7,267.3L306.5,267.7" stroke="#dfe6ef"/><path d="M306.5,267.7L305.2,268.0" stroke="#dee6ef"/><path d="M305.2,268.0L304.0,268.3" stroke="#dde5ef"/><path d="M304.0,268.3L302.8,268.6" stroke="#dde5ef"/><path d="M302.8,268.6L301.6,268.9" stroke="#dce4ef"/><path d="M301.6,268.9L300.4,269.2" stroke="#dbe4ef"/><path d="M300.4,269.2L299.2,269.5" stroke="#dbe3ef"/><path d="M299.2,269.5L298.1,269.7" stroke="#dae3ef"/><path d="M298.1,269.7L297.0,270.0" stroke="#d9e2ef"/><path d="M297.0,270.0L296.0,270.3" stroke="#d9e2ef"/><path d="M296.0,270.3L295.1,270.5" stroke="#d8e2ef"/><path d="M295.1,270.5L294.2,270.8" stroke="#d8e1ef"/><path d="M294.2,270.8L293.4,271.0" stroke="#d7e1ee"/><path d="M293.4,271.0L292.7,271.3" stroke="#d7e0ee"/><path d="M292.7,271.3L292.0,271.6" stroke="#d6e0ee"/><path d="M292.0,271.6L291.4,271.9" stroke="#d7e0ee"/><path d="M291.4,271.9L290.8,272.3" stroke="#d8e1ee"/><path d="M290.8,272.3L290.3,272.6" stroke="#d9e1ed"/><path d="M290.3,272.6L289.8,273.0" stroke="#dae2ed"/><path d="M289.8,273.0L289.4,273.4" stroke="#dbe2ec"/><path d="M289.4,273.4L289.0,273.8" stroke="#dce3ec"/><path d="M289.0,273.8L288.7,274.3" stroke="#dee3ec"/><path d="M288.7,274.3L288.4,274.8" stroke="#dfe4eb"/><path d="M288.4,274.8L288.2,275.3" stroke="#e1e4ea"/><path d="M288.2,275.3L288.0,275.8" stroke="#e2e4ea"/><path d="M288.0,275.8L287.9,276.2" stroke="#e4e4e9"/><path d="M287.9,276.2L287.8,276.5" stroke="#e5e5e8"/></g><g stroke-width="4.8" stroke-linecap="round"><path d="M275.0,203.0L275.1,203.6" stroke="#e9cabe"/><path d="M275.1,203.6L275.3,204.5" stroke="#e8c9bd"/><path d="M275.3,204.5L275.5,205.5" stroke="#e8c8bb"/><path d="M275.5,205.5L275.8,206.7" stroke="#e8c6ba"/><path d="M275.8,206.7L276.1,207.8" stroke="#e8c5b8"/><path d="M276.1,207.8L276.4,209.0" stroke="#e7c4b7"/><path d="M276.4,209.0L276.8,210.2" stroke="#e7c2b5"/><path d="M276.8,210.2L277.3,211.5" stroke="#e6c0b2"/><path d="M277.3,211.5L277.8,212.9" stroke="#e5bdaf"/><path d="M277.8,212.9L278.3,214.2" stroke="#e5bbac"/><path d="M278.3,214.2L278.8,215.4" stroke="#e4b8a9"/><path d="M278.8,215.4L279.4,216.5" stroke="#e3b6a6"/><path d="M279.4,216.5L280.0,217.4" stroke="#e3b4a4"/><path d="M280.0,217.4L280.6,218.2" stroke="#e2b2a1"/><path d="M280.6,218.2L281.2,219.0" stroke="#e1b09f"/><path d="M281.2,219.0L281.8,219.6" stroke="#e1ad9c"/><path d="M281.8,219.6L282.4,220.1" stroke="#e0ab9a"/><path d="M282.4,220.1L283.0,220.6" stroke="#dfa997"/><path d="M283.0,220.6L283.5,221.0" stroke="#dfa895"/><path d="M283.5,221.0L284.0,221.3" stroke="#dea694"/><path d="M284.0,221.3L284.5,221.5" stroke="#dea693"/><path d="M284.5,221.5L285.0,221.6" stroke="#dea491"/><path d="M285.0,221.6L285.5,221.6" stroke="#dea490"/><path d="M285.5,221.6L286.0,221.6" stroke="#dda28f"/><path d="M286.0,221.6L286.5,221.5" stroke="#dda28e"/><path d="M286.5,221.5L287.1,221.3" stroke="#dda18d"/><path d="M287.1,221.3L287.7,221.1" stroke="#dda18c"/><path d="M287.7,221.1L288.3,220.8" stroke="#dca08c"/><path d="M288.3,220.8L288.9,220.3" stroke="#dca08b"/><path d="M288.9,220.3L289.4,219.8" stroke="#dc9f8a"/><path d="M289.4,219.8L289.9,219.1" stroke="#dc9f8a"/><path d="M289.9,219.1L290.4,218.4" stroke="#dc9f8a"/><path d="M290.4,218.4L290.9,217.5" stroke="#dc9f8a"/><path d="M290.9,217.5L291.4,216.5" stroke="#dc9e89"/><path d="M291.4,216.5L291.9,215.5" stroke="#dc9e89"/><path d="M291.9,215.5L292.4,214.5" stroke="#dc9e89"/><path d="M292.4,214.5L292.9,213.4" stroke="#dc9e89"/><path d="M292.9,213.4L293.3,212.2" stroke="#dc9f8a"/><path d="M293.3,212.2L293.8,210.9" stroke="#dc9f8b"/><path d="M293.8,210.9L294.3,209.7" stroke="#dda08b"/><path d="M294.3,209.7L294.7,208.5" stroke="#dda08c"/><path d="M294.7,208.5L295.0,207.5" stroke="#dda18d"/><path d="M295.0,207.5L295.3,206.6" stroke="#dda18d"/><path d="M295.3,206.6L295.5,205.6" stroke="#dda28e"/><path d="M295.5,205.6L295.8,204.8" stroke="#dda38f"/><path d="M295.8,204.8L295.9,204.1" stroke="#dea390"/><path d="M295.9,204.1L296.1,203.5" stroke="#dea491"/><path d="M296.1,203.5L296.2,203.0" stroke="#dea592"/></g><g stroke-width="4.5" stroke-linecap="round"><path d="M324.6,203.0L324.8,203.8" stroke="#e6bbac"/><path d="M324.8,203.8L325.2,205.0" stroke="#e6baab"/><path d="M325.2,205.0L325.6,206.3" stroke="#e5b9aa"/><path d="M325.6,206.3L326.0,207.7" stroke="#e5b8a8"/><path d="M326.0,207.7L326.5,209.0" stroke="#e4b7a7"/><path d="M326.5,209.0L327.0,210.0" stroke="#e4b6a6"/><path d="M327.0,210.0L327.5,210.7" stroke="#e4b5a5"/><path d="M327.5,210.7L328.1,211.4" stroke="#e4b4a4"/><path d="M328.1,211.4L328.8,211.9" stroke="#e3b3a3"/><path d="M328.8,211.9L329.4,212.3" stroke="#e3b2a2"/><path d="M329.4,212.3L330.1,212.5" stroke="#e2b1a1"/><path d="M330.1,212.5L330.7,212.6" stroke="#e2b0a0"/><path d="M330.7,212.6L331.3,212.5" stroke="#e2b0a0"/><path d="M331.3,212.5L332.0,212.3" stroke="#e2b1a1"/><path d="M332.0,212.3L332.6,212.0" stroke="#e3b2a2"/><path d="M332.6,212.0L333.3,211.5" stroke="#e3b3a3"/><path d="M333.3,211.5L333.9,210.9" stroke="#e4b4a4"/><path d="M333.9,210.9L334.5,210.2" stroke="#e4b5a5"/><path d="M334.5,210.2L335.1,209.2" stroke="#e4b6a6"/><path d="M335.1,209.2L335.7,207.9" stroke="#e4b7a7"/><path d="M335.7,207.9L336.3,206.4" stroke="#e5b8a8"/><path d="M336.3,206.4L336.9,205.0" stroke="#e5b9aa"/><path d="M336.9,205.0L337.4,203.8" stroke="#e6baab"/><path d="M337.4,203.8L337.7,203.0" stroke="#e6bbac"/></g><g stroke-width="4.2" stroke-linecap="round"><path d="M353.0,292.0L353.1,291.2" stroke="#e6dedd"/><path d="M353.1,291.2L353.3,290.1" stroke="#e8dfde"/><path d="M353.3,290.1L353.5,288.8" stroke="#e8e0de"/><path d="M353.5,288.8L353.8,287.5" stroke="#eae0de"/><path d="M353.8,287.5L354.0,286.1" stroke="#eae1de"/><path d="M354.0,286.1L354.3,285.0" stroke="#ece2df"/><path d="M354.3,285.0L354.5,284.0" stroke="#ece2df"/><path d="M354.5,284.0L354.7,283.1" stroke="#ede2df"/><path d="M354.7,283.1L354.9,282.3" stroke="#ede2df"/><path d="M354.9,282.3L355.2,281.4" stroke="#eee3de"/><path d="M355.2,281.4L355.5,280.6" stroke="#eee3de"/><path d="M355.5,280.6L356.0,279.7" stroke="#efe3de"/><path d="M356.0,279.7L356.6,278.7" stroke="#efe3de"/><path d="M356.6,278.7L357.3,277.7" stroke="#efe3de"/><path d="M357.3,277.7L358.1,276.6" stroke="#efe3de"/><path d="M358.1,276.6L359.0,275.6" stroke="#f0e3de"/><path d="M359.0,275.6L359.8,274.8" stroke="#f0e3de"/><path d="M359.8,274.8L360.7,274.2" stroke="#f0e3de"/><path d="M360.7,274.2L361.6,273.8" stroke="#f0e3de"/><path d="M361.6,273.8L362.4,273.7" stroke="#f0e2dd"/><path d="M362.4,273.7L363.3,273.6" stroke="#f0e2dd"/><path d="M363.3,273.6L364.2,273.7" stroke="#f0e2dc"/><path d="M364.2,273.7L365.1,273.8" stroke="#f0e2dc"/><path d="M365.1,273.8L366.0,274.0" stroke="#f0e1db"/><path d="M366.0,274.0L366.8,274.2" stroke="#f0e1db"/><path d="M366.8,274.2L367.4,274.3" stroke="#f0e0da"/><path d="M367.4,274.3L368.1,274.6" stroke="#f0e0da"/><path d="M368.1,274.6L368.8,274.9" stroke="#efe0da"/><path d="M368.8,274.9L369.8,275.4" stroke="#efe0da"/><path d="M369.8,275.4L371.0,276.0" stroke="#efdfd9"/><path d="M371.0,276.0L372.6,276.8" stroke="#efdfd9"/><path d="M372.6,276.8L374.5,277.8" stroke="#efded8"/><path d="M374.5,277.8L376.6,278.9" stroke="#efded8"/><path d="M376.6,278.9L378.7,280.1" stroke="#efded7"/><path d="M378.7,280.1L380.9,281.3" stroke="#efded7"/><path d="M380.9,281.3L383.0,282.6" stroke="#efddd6"/><path d="M383.0,282.6L385.0,283.9" stroke="#efddd6"/><path d="M385.0,283.9L387.0,285.3" stroke="#efddd6"/><path d="M387.0,285.3L389.0,286.8" stroke="#efddd6"/><path d="M389.0,286.8L391.1,288.3" stroke="#efdcd5"/><path d="M391.1,288.3L393.1,289.8" stroke="#efdcd5"/><path d="M393.1,289.8L395.1,291.3" stroke="#efdcd5"/><path d="M395.1,291.3L397.2,292.8" stroke="#efdcd5"/><path d="M397.2,292.8L399.3,294.3" stroke="#efdcd5"/><path d="M399.3,294.3L401.4,295.9" stroke="#efdcd5"/><path d="M401.4,295.9L403.5,297.4" stroke="#efdbd4"/><path d="M403.5,297.4L405.4,298.7" stroke="#efdbd4"/><path d="M405.4,298.7L407.2,299.9" stroke="#efdbd4"/><path d="M407.2,299.9L408.7,300.9" stroke="#efdbd4"/><path d="M408.7,300.9L410.0,301.6" stroke="#efdbd4"/><path d="M410.0,301.6L411.2,302.3" stroke="#efdbd4"/><path d="M411.2,302.3L412.3,302.9" stroke="#efdcd5"/><path d="M412.3,302.9L413.6,303.4" stroke="#efdcd5"/><path d="M413.6,303.4L415.0,304.0" stroke="#efdcd5"/><path d="M415.0,304.0L416.8,304.6" stroke="#efdcd5"/><path d="M416.8,304.6L418.8,305.2" stroke="#efdcd5"/><path d="M418.8,305.2L421.0,305.8" stroke="#efdcd5"/><path d="M421.0,305.8L423.0,306.3" stroke="#efdcd5"/><path d="M423.0,306.3L424.8,306.7" stroke="#efdcd5"/><path d="M424.8,306.7L426.0,307.0" stroke="#efdcd5"/></g><g stroke-width="4.2" stroke-linecap="round"><path d="M350.0,351.0L350.2,350.3" stroke="#eddfd9"/><path d="M350.2,350.3L350.5,349.4" stroke="#eddfd9"/><path d="M350.5,349.4L350.9,348.3" stroke="#eddfd9"/><path d="M350.9,348.3L351.4,347.1" stroke="#eddfd9"/><path d="M351.4,347.1L352.0,345.8" stroke="#eddfd9"/><path d="M352.0,345.8L352.7,344.7" stroke="#eddfd9"/><path d="M352.7,344.7L353.6,343.6" stroke="#eddfd9"/><path d="M353.6,343.6L354.8,342.5" stroke="#eddfd9"/><path d="M354.8,342.5L356.0,341.4" stroke="#eddfd9"/><path d="M356.0,341.4L357.3,340.2" stroke="#eee0da"/><path d="M357.3,340.2L358.7,339.1" stroke="#eee0da"/><path d="M358.7,339.1L360.0,338.0" stroke="#eee0da"/><path d="M360.0,338.0L361.2,337.0" stroke="#eee0da"/><path d="M361.2,337.0L362.4,336.1" stroke="#eee0da"/><path d="M362.4,336.1L363.5,335.2" stroke="#eee0da"/><path d="M363.5,335.2L364.8,334.2" stroke="#efe0da"/><path d="M364.8,334.2L366.3,333.1" stroke="#efe0da"/><path d="M366.3,333.1L368.1,331.6" stroke="#efe0da"/><path d="M368.1,331.6L370.3,329.7" stroke="#efe0da"/><path d="M370.3,329.7L372.8,327.5" stroke="#eee1dc"/><path d="M372.8,327.5L375.5,325.1" stroke="#eee1dc"/><path d="M375.5,325.1L378.3,322.7" stroke="#eee2de"/><path d="M378.3,322.7L381.0,320.4" stroke="#eee2de"/><path d="M381.0,320.4L383.5,318.5" stroke="#ede3e0"/><path d="M383.5,318.5L385.7,316.8" stroke="#ece3e1"/><path d="M385.7,316.8L387.9,315.3" stroke="#ebe4e4"/><path d="M387.9,315.3L389.9,314.0" stroke="#e9e5e6"/><path d="M389.9,314.0L391.9,312.8" stroke="#e8e6e9"/><path d="M391.9,312.8L393.9,311.7" stroke="#e6e7eb"/><path d="M393.9,311.7L395.8,310.8" stroke="#e5e8ee"/><path d="M395.8,310.8L397.6,310.1" stroke="#e3e8ef"/><path d="M397.6,310.1L399.2,309.5" stroke="#e2e7ef"/><path d="M399.2,309.5L400.8,309.1" stroke="#e1e7ef"/><path d="M400.8,309.1L402.4,308.8" stroke="#e0e6f0"/><path d="M402.4,308.8L404.3,308.6" stroke="#dfe6f0"/><path d="M404.3,308.6L406.6,308.5" stroke="#dee5f0"/><path d="M406.6,308.5L409.6,308.5" stroke="#dee5ef"/><path d="M409.6,308.5L413.1,308.6" stroke="#e0e4ec"/><path d="M413.1,308.6L417.0,308.8" stroke="#e2e4ea"/><path d="M417.0,308.8L420.7,309.0" stroke="#e3e4e8"/><path d="M420.7,309.0L423.8,309.2" stroke="#e5e4e6"/><path d="M423.8,309.2L426.0,309.3" stroke="#e7e3e3"/></g><g stroke-width="4.2" stroke-linecap="round"><path d="M359.0,351.0L359.2,350.6" stroke="#dde6f0"/><path d="M359.2,350.6L359.4,350.1" stroke="#dee6f0"/><path d="M359.4,350.1L359.6,349.4" stroke="#dfe6f0"/><path d="M359.6,349.4L360.1,348.5" stroke="#e0e7ef"/><path d="M360.1,348.5L360.8,347.4" stroke="#e1e7ef"/><path d="M360.8,347.4L362.0,346.0" stroke="#e2e7ef"/><path d="M362.0,346.0L363.7,344.1" stroke="#e3e6ed"/><path d="M363.7,344.1L365.8,341.7" stroke="#e5e5ea"/><path d="M365.8,341.7L368.2,339.1" stroke="#e7e4e6"/><path d="M368.2,339.1L370.8,336.4" stroke="#e9e3e3"/><path d="M370.8,336.4L373.4,333.8" stroke="#ebe2df"/><path d="M373.4,333.8L375.8,331.6" stroke="#ede1dc"/><path d="M375.8,331.6L378.1,329.7" stroke="#eee0da"/><path d="M378.1,329.7L380.4,328.0" stroke="#eee0da"/><path d="M380.4,328.0L382.7,326.3" stroke="#eee0da"/><path d="M382.7,326.3L385.1,324.9" stroke="#efdfd9"/><path d="M385.1,324.9L387.4,323.6" stroke="#efdfd9"/><path d="M387.4,323.6L389.7,322.4" stroke="#efdfd9"/><path d="M389.7,322.4L391.9,321.4" stroke="#efdfd9"/><path d="M391.9,321.4L394.0,320.6" stroke="#efdfd9"/><path d="M394.0,320.6L396.1,319.9" stroke="#efdfd9"/><path d="M396.1,319.9L398.3,319.4" stroke="#efe0da"/><path d="M398.3,319.4L400.8,318.9" stroke="#efe0da"/><path d="M400.8,318.9L403.6,318.5" stroke="#efe0da"/><path d="M403.6,318.5L407.1,318.2" stroke="#eee0dc"/><path d="M407.1,318.2L411.3,317.9" stroke="#ebe2e0"/><path d="M411.3,317.9L415.7,317.8" stroke="#e8e2e3"/><path d="M415.7,317.8L419.9,317.7" stroke="#e6e4e7"/><path d="M419.9,317.7L423.5,317.6" stroke="#e3e4ea"/><path d="M423.5,317.6L426.0,317.5" stroke="#e0e6ee"/></g><g stroke-width="4.0" stroke-linecap="round"><path d="M415.0,351.0L415.7,349.9" stroke="#dfe7f0"/><path d="M415.7,349.9L416.6,348.3" stroke="#dfe7f0"/><path d="M416.6,348.3L417.7,346.4" stroke="#dfe7f0"/><path d="M417.7,346.4L418.9,344.4" stroke="#dfe7f0"/><path d="M418.9,344.4L420.0,342.6" stroke="#dfe7f0"/><path d="M420.0,342.6L421.0,341.0" stroke="#dfe7f0"/><path d="M421.0,341.0L421.9,339.7" stroke="#dfe7f0"/><path d="M421.9,339.7L422.9,338.5" stroke="#dfe7f0"/><path d="M422.9,338.5L423.9,337.4" stroke="#dfe7f0"/><path d="M423.9,337.4L424.7,336.4" stroke="#dfe7f0"/><path d="M424.7,336.4L425.5,335.6" stroke="#dfe7f0"/><path d="M425.5,335.6L426.0,335.0" stroke="#dfe7f0"/></g><g stroke-width="4.0" stroke-linecap="round"><path d="M342.8,332.0L342.3,332.8" stroke="#dde6f0"/><path d="M342.3,332.8L341.6,334.0" stroke="#dee6f0"/><path d="M341.6,334.0L340.7,335.3" stroke="#dee6f0"/><path d="M340.7,335.3L339.8,336.8" stroke="#dee7f0"/><path d="M339.8,336.8L338.9,338.4" stroke="#dee7f0"/><path d="M338.9,338.4L338.0,340.0" stroke="#dfe7f0"/><path d="M338.0,340.0L337.1,341.8" stroke="#dfe7f0"/><path d="M337.1,341.8L336.2,343.9" stroke="#e0e8f0"/><path d="M336.2,343.9L335.3,346.0" stroke="#e1e8f0"/><path d="M335.3,346.0L334.4,348.0" stroke="#e1e8f0"/><path d="M334.4,348.0L333.7,349.8" stroke="#e2e8f0"/><path d="M333.7,349.8L333.2,351.0" stroke="#e3e9f0"/></g><g stroke-width="4.5" stroke-linecap="round"><path d="M278.5,351.0L278.7,349.3" stroke="#a9c5e4"/><path d="M278.7,349.3L278.9,347.0" stroke="#a9c5e4"/><path d="M278.9,347.0L279.2,344.2" stroke="#a9c5e4"/><path d="M279.2,344.2L279.6,341.2" stroke="#a8c4e4"/><path d="M279.6,341.2L280.0,338.0" stroke="#a8c4e4"/><path d="M280.0,338.0L280.5,335.0" stroke="#a8c4e4"/><path d="M280.5,335.0L281.0,331.9" stroke="#a8c4e4"/><path d="M281.0,331.9L281.6,328.5" stroke="#a9c4e4"/><path d="M281.6,328.5L282.3,325.1" stroke="#a9c5e4"/><path d="M282.3,325.1L283.1,321.7" stroke="#aac5e5"/><path d="M283.1,321.7L283.9,318.5" stroke="#aac6e5"/><path d="M283.9,318.5L284.8,315.6" stroke="#abc6e5"/><path d="M284.8,315.6L285.9,313.0" stroke="#adc7e5"/><path d="M285.9,313.0L287.1,310.5" stroke="#b0c9e6"/><path d="M287.1,310.5L288.4,308.2" stroke="#b3cbe7"/><path d="M288.4,308.2L289.7,306.1" stroke="#b7cee8"/><path d="M289.7,306.1L291.0,304.3" stroke="#bad0e9"/><path d="M291.0,304.3L292.2,302.9" stroke="#bdd2ea"/><path d="M292.2,302.9L293.3,301.9" stroke="#c1d4ea"/><path d="M293.3,301.9L294.4,301.2" stroke="#c5d7ec"/><path d="M294.4,301.2L295.4,300.9" stroke="#c9d9ec"/><path d="M295.4,300.9L296.4,300.7" stroke="#ccdcee"/><path d="M296.4,300.7L297.5,300.7" stroke="#d0deee"/><path d="M297.5,300.7L298.6,300.7" stroke="#d4e1f0"/><path d="M298.6,300.7L299.8,300.8" stroke="#d6e2f0"/><path d="M299.8,300.8L301.0,301.1" stroke="#d8e3f0"/><path d="M301.0,301.1L302.3,301.4" stroke="#d8e4f0"/><path d="M302.3,301.4L303.6,301.9" stroke="#dae4f1"/><path d="M303.6,301.9L304.8,302.4" stroke="#dae5f1"/><path d="M304.8,302.4L306.0,302.9" stroke="#dce6f1"/><path d="M306.0,302.9L307.1,303.4" stroke="#dbe6f1"/><path d="M307.1,303.4L308.1,303.9" stroke="#dae4f1"/><path d="M308.1,303.9L309.0,304.5" stroke="#d8e4f1"/><path d="M309.0,304.5L310.0,305.1" stroke="#d7e2f0"/><path d="M310.0,305.1L310.9,305.8" stroke="#d5e2f0"/><path d="M310.9,305.8L312.0,306.5" stroke="#d4e0f0"/><path d="M312.0,306.5L313.2,307.3" stroke="#d2dff0"/><path d="M313.2,307.3L314.4,308.3" stroke="#cfdeef"/><path d="M314.4,308.3L315.7,309.3" stroke="#cddcee"/><path d="M315.7,309.3L316.9,310.3" stroke="#cadaee"/><path d="M316.9,310.3L318.1,311.0" stroke="#c8d8ed"/><path d="M318.1,311.0L319.2,311.5" stroke="#c5d7ec"/><path d="M319.2,311.5L320.2,311.7" stroke="#c2d5ec"/><path d="M320.2,311.7L321.0,311.6" stroke="#c0d3eb"/><path d="M321.0,311.6L321.8,311.4" stroke="#bcd1ea"/><path d="M321.8,311.4L322.6,311.0" stroke="#bacfe9"/><path d="M322.6,311.0L323.3,310.5" stroke="#b6cde8"/><path d="M323.3,310.5L324.0,310.0" stroke="#b4cbe7"/><path d="M324.0,310.0L324.7,309.4" stroke="#b0c9e7"/><path d="M324.7,309.4L325.3,308.7" stroke="#aec7e6"/><path d="M325.3,308.7L325.9,307.9" stroke="#aac5e5"/><path d="M325.9,307.9L326.4,307.0" stroke="#a8c4e4"/><path d="M326.4,307.0L327.0,306.0" stroke="#a4c2e3"/><path d="M327.0,306.0L327.5,305.0" stroke="#a2c0e2"/><path d="M327.5,305.0L328.0,303.9" stroke="#9fbee2"/><path d="M328.0,303.9L328.5,302.6" stroke="#9cbce1"/><path d="M328.5,302.6L329.1,301.2" stroke="#99bae0"/><path d="M329.1,301.2L329.5,299.9" stroke="#96b9df"/><path d="M329.5,299.9L330.0,298.4" stroke="#93b7de"/><path d="M330.0,298.4L330.5,297.0" stroke="#90b5dd"/><path d="M330.5,297.0L331.0,295.6" stroke="#8eb4dd"/><path d="M331.0,295.6L331.4,294.1" stroke="#8db2dc"/><path d="M331.4,294.1L331.8,292.6" stroke="#8bb2dc"/><path d="M331.8,292.6L332.3,291.1" stroke="#8ab0db"/><path d="M332.3,291.1L332.7,289.6" stroke="#88b0db"/><path d="M332.7,289.6L333.2,288.0" stroke="#87aeda"/><path d="M333.2,288.0L333.7,286.4" stroke="#88afda"/><path d="M333.7,286.4L334.3,284.7" stroke="#8ab1db"/><path d="M334.3,284.7L334.8,283.0" stroke="#8eb3dc"/><path d="M334.8,283.0L335.4,281.3" stroke="#90b4dd"/><path d="M335.4,281.3L336.0,279.6" stroke="#94b6de"/><path d="M336.0,279.6L336.5,278.0" stroke="#96b8df"/><path d="M336.5,278.0L337.0,276.4" stroke="#9abae0"/><path d="M337.0,276.4L337.5,274.8" stroke="#9fbde1"/><path d="M337.5,274.8L338.0,273.2" stroke="#a4c0e2"/><path d="M338.0,273.2L338.5,271.7" stroke="#a8c3e3"/><path d="M338.5,271.7L339.0,270.3" stroke="#adc6e4"/><path d="M339.0,270.3L339.5,269.0" stroke="#b2c9e5"/><path d="M339.5,269.0L340.0,267.8" stroke="#b6cce7"/><path d="M340.0,267.8L340.4,266.8" stroke="#bccfe8"/><path d="M340.4,266.8L340.9,265.8" stroke="#c0d2e9"/><path d="M340.9,265.8L341.3,264.9" stroke="#c6d6ea"/><path d="M341.3,264.9L341.8,264.0" stroke="#cad9eb"/><path d="M341.8,264.0L342.3,263.0" stroke="#d0dcec"/><path d="M342.3,263.0L342.8,262.0" stroke="#d4dfed"/><path d="M342.8,262.0L343.3,261.0" stroke="#d7e0ec"/><path d="M343.3,261.0L343.9,259.9" stroke="#dae1eb"/><path d="M343.9,259.9L344.4,258.9" stroke="#dee3eb"/><path d="M344.4,258.9L345.0,257.9" stroke="#e1e4ea"/><path d="M345.0,257.9L345.5,257.0" stroke="#e4e5e9"/><path d="M345.5,257.0L346.0,256.1" stroke="#e6e5e7"/><path d="M346.0,256.1L346.5,255.2" stroke="#e8e4e4"/><path d="M346.5,255.2L347.0,254.4" stroke="#e8e2e1"/><path d="M347.0,254.4L347.5,253.6" stroke="#eae0de"/><path d="M347.5,253.6L348.0,252.8" stroke="#eadedb"/><path d="M348.0,252.8L348.5,252.0" stroke="#ecddd8"/><path d="M348.5,252.0L349.0,251.2" stroke="#ecdbd5"/><path d="M349.0,251.2L349.5,250.4" stroke="#ecd9d2"/><path d="M349.5,250.4L349.9,249.7" stroke="#ecd7d0"/><path d="M349.9,249.7L350.4,249.0" stroke="#ebd5cd"/><path d="M350.4,249.0L350.7,248.4" stroke="#ebd3cb"/><path d="M350.7,248.4L351.0,248.0" stroke="#ebd1c8"/></g><g stroke-width="4.3" stroke-linecap="round"><path d="M350.2,262.0L350.0,262.6" stroke="#d7dce6"/><path d="M350.0,262.6L349.8,263.4" stroke="#d4dbe7"/><path d="M349.8,263.4L349.5,264.4" stroke="#d0dae8"/><path d="M349.5,264.4L349.2,265.6" stroke="#cdd8e8"/><path d="M349.2,265.6L348.9,267.0" stroke="#c9d7e9"/><path d="M348.9,267.0L348.6,268.5" stroke="#c6d6ea"/><path d="M348.6,268.5L348.3,270.3" stroke="#c3d5ea"/><path d="M348.3,270.3L348.0,272.4" stroke="#c2d4ea"/><path d="M348.0,272.4L347.7,274.7" stroke="#c1d3ea"/><path d="M347.7,274.7L347.4,277.0" stroke="#bfd2e9"/><path d="M347.4,277.0L347.0,279.3" stroke="#bed1e9"/><path d="M347.0,279.3L346.7,281.5" stroke="#bdd0e9"/><path d="M346.7,281.5L346.4,283.5" stroke="#bcd0e9"/><path d="M346.4,283.5L346.0,285.5" stroke="#bdd1e9"/><path d="M346.0,285.5L345.6,287.4" stroke="#bed1e9"/><path d="M345.6,287.4L345.2,289.3" stroke="#bed2ea"/><path d="M345.2,289.3L344.9,291.1" stroke="#bfd2ea"/><path d="M344.9,291.1L344.5,293.0" stroke="#c0d3ea"/><path d="M344.5,293.0L344.1,294.9" stroke="#c1d4ea"/><path d="M344.1,294.9L343.8,296.8" stroke="#c3d5eb"/><path d="M343.8,296.8L343.4,298.7" stroke="#c5d6ec"/><path d="M343.4,298.7L343.0,300.5" stroke="#c8d8ec"/><path d="M343.0,300.5L342.7,302.3" stroke="#cad9ed"/><path d="M342.7,302.3L342.3,304.0" stroke="#ccdaee"/><path d="M342.3,304.0L341.9,305.6" stroke="#d0dcee"/><path d="M341.9,305.6L341.6,307.1" stroke="#d4deed"/><path d="M341.6,307.1L341.2,308.6" stroke="#dae1ec"/><path d="M341.2,308.6L340.8,310.0" stroke="#dee3eb"/><path d="M340.8,310.0L340.4,311.5" stroke="#e4e6ea"/><path d="M340.4,311.5L340.0,313.0" stroke="#e8e8e9"/><path d="M340.0,313.0L339.6,314.6" stroke="#ebe7e6"/><path d="M339.6,314.6L339.2,316.3" stroke="#ece4e1"/><path d="M339.2,316.3L338.8,317.9" stroke="#ece1dc"/><path d="M338.8,317.9L338.3,319.6" stroke="#edddd7"/><path d="M338.3,319.6L337.7,321.3" stroke="#eddad2"/><path d="M337.7,321.3L337.0,323.0" stroke="#eed7cd"/><path d="M337.0,323.0L336.2,324.7" stroke="#edd2c6"/><path d="M336.2,324.7L335.3,326.4" stroke="#eccbbd"/><path d="M335.3,326.4L334.4,328.2" stroke="#eac4b4"/><path d="M334.4,328.2L333.3,329.9" stroke="#e9beac"/><path d="M333.3,329.9L332.1,331.6" stroke="#e7b7a3"/><path d="M332.1,331.6L330.7,333.2" stroke="#e6b09a"/><path d="M330.7,333.2L329.0,334.8" stroke="#e4ac94"/><path d="M329.0,334.8L327.1,336.3" stroke="#e4a990"/><path d="M327.1,336.3L324.9,337.7" stroke="#e2a68d"/><path d="M324.9,337.7L322.8,339.2" stroke="#e2a389"/><path d="M322.8,339.2L320.9,340.6" stroke="#e0a086"/><path d="M320.9,340.6L319.2,342.1" stroke="#e09d82"/><path d="M319.2,342.1L317.8,343.7" stroke="#df9c80"/><path d="M317.8,343.7L316.5,345.4" stroke="#df9d81"/><path d="M316.5,345.4L315.4,347.1" stroke="#df9d82"/><path d="M315.4,347.1L314.4,348.7" stroke="#df9e83"/><path d="M314.4,348.7L313.6,350.0" stroke="#df9e84"/><path d="M313.6,350.0L313.0,351.0" stroke="#df9f85"/></g><g stroke-width="5.0" stroke-linecap="round"><path d="M356.0,203.0L356.0,204.2" stroke="#ecccc2"/><path d="M356.0,204.2L355.9,205.8" stroke="#ecccc2"/><path d="M355.9,205.8L355.9,207.8" stroke="#eccbc1"/><path d="M355.9,207.8L355.8,210.0" stroke="#ebcbc1"/><path d="M355.8,210.0L355.7,212.4" stroke="#ebcac0"/><path d="M355.7,212.4L355.5,215.0" stroke="#ebcac0"/><path d="M355.5,215.0L355.3,217.9" stroke="#ebcac0"/><path d="M355.3,217.9L355.0,221.3" stroke="#ebcac0"/><path d="M355.0,221.3L354.7,224.9" stroke="#ebcabf"/><path d="M354.7,224.9L354.3,228.5" stroke="#eac9bf"/><path d="M354.3,228.5L354.0,232.0" stroke="#eac9be"/><path d="M354.0,232.0L353.8,235.0" stroke="#eac9be"/><path d="M353.8,235.0L353.6,237.6" stroke="#eac9be"/><path d="M353.6,237.6L353.5,240.1" stroke="#eac9be"/><path d="M353.5,240.1L353.4,242.3" stroke="#eac9be"/><path d="M353.4,242.3L353.4,244.4" stroke="#eac8bd"/><path d="M353.4,244.4L353.3,246.4" stroke="#eac8bd"/><path d="M353.3,246.4L353.2,248.3" stroke="#eac8bd"/><path d="M353.2,248.3L353.1,250.2" stroke="#eac8bd"/><path d="M353.1,250.2L353.0,251.9" stroke="#eac8be"/><path d="M353.0,251.9L352.9,253.5" stroke="#eac8be"/><path d="M352.9,253.5L352.8,255.1" stroke="#e9c9bf"/><path d="M352.8,255.1L352.8,256.6" stroke="#e9c9bf"/><path d="M352.8,256.6L352.7,258.0" stroke="#e9c9c0"/><path d="M352.7,258.0L352.6,259.3" stroke="#e8cac2"/><path d="M352.6,259.3L352.6,260.6" stroke="#e6cac4"/><path d="M352.6,260.6L352.5,261.8" stroke="#e5ccc8"/><path d="M352.5,261.8L352.5,262.9" stroke="#e3ccca"/><path d="M352.5,262.9L352.5,264.0" stroke="#e2cece"/><path d="M352.5,264.0L352.5,265.0" stroke="#e0ced0"/><path d="M352.5,265.0L352.5,266.1" stroke="#daced3"/><path d="M352.5,266.1L352.6,267.1" stroke="#d2cbd4"/><path d="M352.6,267.1L352.6,268.2" stroke="#c8c8d6"/><path d="M352.6,268.2L352.7,269.1" stroke="#c0c5d8"/><path d="M352.7,269.1L352.8,269.9" stroke="#b6c2da"/><path d="M352.8,269.9L352.8,270.5" stroke="#aebfdb"/></g><g stroke-width="4.3" stroke-linecap="round"><path d="M351.9,294.0L351.8,294.5" stroke="#dc9c82"/><path d="M351.8,294.5L351.6,295.1" stroke="#db9276"/><path d="M351.6,295.1L351.4,295.9" stroke="#da8a68"/><path d="M351.4,295.9L351.2,296.9" stroke="#da805c"/><path d="M351.2,296.9L351.0,297.9" stroke="#d9784e"/><path d="M351.0,297.9L350.8,299.0" stroke="#d86e42"/><path d="M350.8,299.0L350.6,300.3" stroke="#d8693a"/><path d="M350.6,300.3L350.3,301.7" stroke="#d66636"/><path d="M350.3,301.7L350.1,303.2" stroke="#d66334"/><path d="M350.1,303.2L349.8,304.9" stroke="#d46130"/><path d="M349.8,304.9L349.5,306.5" stroke="#d45e2e"/><path d="M349.5,306.5L349.2,308.0" stroke="#d25b2a"/><path d="M349.2,308.0L348.9,309.5" stroke="#d25a29"/><path d="M348.9,309.5L348.6,311.0" stroke="#d25b2a"/><path d="M348.6,311.0L348.2,312.6" stroke="#d25c2b"/><path d="M348.2,312.6L347.9,314.1" stroke="#d35c2c"/><path d="M347.9,314.1L347.5,315.6" stroke="#d35d2d"/><path d="M347.5,315.6L347.2,317.0" stroke="#d35e2e"/><path d="M347.2,317.0L346.9,318.4" stroke="#d36030"/><path d="M346.9,318.4L346.5,319.9" stroke="#d46234"/><path d="M346.5,319.9L346.2,321.2" stroke="#d56639"/><path d="M346.2,321.2L345.9,322.6" stroke="#d6683d"/><path d="M345.9,322.6L345.6,323.9" stroke="#d76c42"/><path d="M345.6,323.9L345.3,325.0" stroke="#d86e46"/><path d="M345.3,325.0L345.0,326.0" stroke="#d9754f"/><path d="M345.0,326.0L344.8,326.9" stroke="#dc805c"/><path d="M344.8,326.9L344.5,327.8" stroke="#de8b6a"/><path d="M344.5,327.8L344.3,328.5" stroke="#e09578"/><path d="M344.3,328.5L344.0,329.3" stroke="#e2a086"/><path d="M344.0,329.3L343.8,330.0" stroke="#e5ab93"/><path d="M343.8,330.0L343.6,330.7" stroke="#e6b5a1"/><path d="M343.6,330.7L343.4,331.4" stroke="#e6beb0"/><path d="M343.4,331.4L343.3,332.0" stroke="#e6c8be"/><path d="M343.3,332.0L343.1,332.7" stroke="#e6d1cc"/><path d="M343.1,332.7L342.9,333.3" stroke="#e6dbda"/><path d="M342.9,333.3L342.7,334.0" stroke="#e6e4e9"/><path d="M342.7,334.0L342.4,334.6" stroke="#e6e8ef"/><path d="M342.4,334.6L342.2,335.1" stroke="#e6e7ec"/><path d="M342.2,335.1L341.9,335.6" stroke="#e7e5e9"/><path d="M341.9,335.6L341.6,336.2" stroke="#e7e4e7"/><path d="M341.6,336.2L341.3,337.1" stroke="#e8e2e4"/><path d="M341.3,337.1L340.9,338.3" stroke="#e8e1e1"/><path d="M340.9,338.3L340.5,340.1" stroke="#e8dfde"/><path d="M340.5,340.1L340.0,342.4" stroke="#e9dedb"/><path d="M340.0,342.4L339.5,344.9" stroke="#eadcd8"/><path d="M339.5,344.9L339.0,347.4" stroke="#eadad5"/><path d="M339.0,347.4L338.6,349.5" stroke="#ebd8d2"/><path d="M338.6,349.5L338.3,351.0" stroke="#ecd7cf"/></g><g stroke-width="3.7" stroke-linecap="round"><path d="M352.9,268.5L352.9,269.2" stroke="#5083c2"/><path d="M352.9,269.2L353.0,270.1" stroke="#4a7dbe"/><path d="M353.0,270.1L353.0,271.2" stroke="#4277ba"/><path d="M353.0,271.2L353.1,272.5" stroke="#3c71b7"/><path d="M353.1,272.5L353.1,273.8" stroke="#346bb3"/><path d="M353.1,273.8L353.1,275.0" stroke="#2e65af"/><path d="M353.1,275.0L353.1,276.3" stroke="#2a62ad"/><path d="M353.1,276.3L353.0,277.6" stroke="#2862ac"/><path d="M353.0,277.6L353.0,279.0" stroke="#2861ac"/><path d="M353.0,279.0L352.9,280.4" stroke="#2661ac"/><path d="M352.9,280.4L352.9,281.7" stroke="#2660ac"/><path d="M352.9,281.7L352.8,283.0" stroke="#2460ab"/><path d="M352.8,283.0L352.7,284.3" stroke="#2561ac"/><path d="M352.7,284.3L352.6,285.5" stroke="#2862ad"/><path d="M352.6,285.5L352.6,286.7" stroke="#2b64ae"/><path d="M352.6,286.7L352.5,287.9" stroke="#2e65af"/><path d="M352.5,287.9L352.4,289.0" stroke="#3167b0"/><path d="M352.4,289.0L352.3,290.0" stroke="#3468b1"/><path d="M352.3,290.0L352.2,290.9" stroke="#4071b5"/><path d="M352.2,290.9L352.1,291.9" stroke="#5680bc"/><path d="M352.1,291.9L352.1,292.7" stroke="#6b8fc2"/><path d="M352.1,292.7L352.0,293.4" stroke="#819ec8"/><path d="M352.0,293.4L351.9,294.0" stroke="#96adce"/><path d="M351.9,294.0L351.9,294.5" stroke="#acbcd5"/></g><g stroke-width="4.4" stroke-linecap="round"><path d="M353.2,271.0L353.3,270.7" stroke="#5d8cc8"/><path d="M353.3,270.7L353.4,270.3" stroke="#6290ca"/><path d="M353.4,270.3L353.6,269.8" stroke="#6894cc"/><path d="M353.6,269.8L353.8,269.3" stroke="#6d98ce"/><path d="M353.8,269.3L354.0,268.8" stroke="#739cd0"/><path d="M354.0,268.8L354.2,268.4" stroke="#78a0d2"/><path d="M354.2,268.4L354.4,268.1" stroke="#7da4d4"/><path d="M354.4,268.1L354.6,267.9" stroke="#82a7d6"/><path d="M354.6,267.9L354.8,267.7" stroke="#87abd8"/><path d="M354.8,267.7L355.1,267.5" stroke="#8caed9"/><path d="M355.1,267.5L355.4,267.3" stroke="#91b2db"/><path d="M355.4,267.3L355.8,267.2" stroke="#96b5dd"/><path d="M355.8,267.2L356.3,267.1" stroke="#9cbadf"/><path d="M356.3,267.1L356.9,266.9" stroke="#a3bee1"/><path d="M356.9,266.9L357.6,266.8" stroke="#aac4e3"/><path d="M357.6,266.8L358.4,266.7" stroke="#b1c8e5"/><path d="M358.4,266.7L359.1,266.6" stroke="#b8cee7"/><path d="M359.1,266.6L359.8,266.6" stroke="#bfd2e9"/><path d="M359.8,266.6L360.5,266.6" stroke="#c5d6ea"/><path d="M360.5,266.6L361.1,266.7" stroke="#cad9eb"/><path d="M361.1,266.7L361.8,266.8" stroke="#cfdcec"/><path d="M361.8,266.8L362.5,266.9" stroke="#d3dfed"/><path d="M362.5,266.9L363.2,267.1" stroke="#d8e2ee"/><path d="M363.2,267.1L364.0,267.3" stroke="#dde5ef"/><path d="M364.0,267.3L364.9,267.6" stroke="#e0e6ef"/><path d="M364.9,267.6L365.9,267.8" stroke="#e2e7ee"/><path d="M365.9,267.8L366.9,268.2" stroke="#e4e8ed"/><path d="M366.9,268.2L367.9,268.5" stroke="#e6e8ec"/><path d="M367.9,268.5L369.0,268.9" stroke="#e8e9eb"/><path d="M369.0,268.9L370.0,269.4" stroke="#eaeaea"/><path d="M370.0,269.4L371.0,269.9" stroke="#ebeae9"/><path d="M371.0,269.9L372.0,270.5" stroke="#ece8e8"/><path d="M372.0,270.5L373.0,271.1" stroke="#ece8e6"/><path d="M373.0,271.1L374.0,271.8" stroke="#ede6e4"/><path d="M374.0,271.8L375.0,272.5" stroke="#ede6e2"/><path d="M375.0,272.5L376.1,273.1" stroke="#eee4e1"/><path d="M376.1,273.1L377.2,273.7" stroke="#eee4e0"/><path d="M377.2,273.7L378.3,274.4" stroke="#eee3de"/><path d="M378.3,274.4L379.5,275.0" stroke="#eee2de"/><path d="M379.5,275.0L380.7,275.7" stroke="#efe2dc"/><path d="M380.7,275.7L381.8,276.3" stroke="#efe1dc"/><path d="M381.8,276.3L383.0,277.0" stroke="#efe0da"/><path d="M383.0,277.0L384.1,277.6" stroke="#efe0da"/><path d="M384.1,277.6L385.2,278.2" stroke="#efdfd9"/><path d="M385.2,278.2L386.2,278.8" stroke="#efdfd8"/><path d="M386.2,278.8L387.3,279.4" stroke="#f0ded8"/><path d="M387.3,279.4L388.5,280.1" stroke="#f0ded7"/><path d="M388.5,280.1L389.9,280.9" stroke="#f0ddd6"/><path d="M389.9,280.9L391.4,281.9" stroke="#f0ddd6"/><path d="M391.4,281.9L393.1,283.1" stroke="#f0ddd6"/><path d="M393.1,283.1L394.9,284.4" stroke="#f0ddd6"/><path d="M394.9,284.4L396.7,285.6" stroke="#f0dcd5"/><path d="M396.7,285.6L398.5,286.8" stroke="#f0dcd5"/><path d="M398.5,286.8L400.3,287.8" stroke="#f0dcd5"/><path d="M400.3,287.8L402.0,288.6" stroke="#f0dcd5"/><path d="M402.0,288.6L403.6,289.3" stroke="#f0dcd5"/><path d="M403.6,289.3L405.1,289.9" stroke="#f0dcd5"/><path d="M405.1,289.9L406.8,290.4" stroke="#efdcd5"/><path d="M406.8,290.4L408.6,290.9" stroke="#efdcd5"/><path d="M408.6,290.9L410.6,291.3" stroke="#efdcd5"/><path d="M410.6,291.3L413.0,291.6" stroke="#efdcd5"/><path d="M413.0,291.6L415.9,291.9" stroke="#efdcd5"/><path d="M415.9,291.9L418.9,292.0" stroke="#efdcd5"/><path d="M418.9,292.0L421.8,292.1" stroke="#efdcd5"/><path d="M421.8,292.1L424.3,292.2" stroke="#efdcd5"/><path d="M424.3,292.2L426.0,292.3" stroke="#efdcd5"/></g></g>
<rect x="273.50" y="208.70" width="149.40" height="137.40" fill="none" stroke="#222" stroke-width="1.3"/>
<line x1="273.50" y1="222.90" x2="275.50" y2="222.90" stroke="#000" stroke-width="1.0" />
<text x="267.80" y="225.90" font-size="10" text-anchor="end" fill="#2e2424" >0.04</text>
<line x1="273.50" y1="250.40" x2="275.50" y2="250.40" stroke="#000" stroke-width="1.0" />
<text x="267.80" y="253.40" font-size="10" text-anchor="end" fill="#2e2424" >0.02</text>
<line x1="273.50" y1="277.90" x2="275.50" y2="277.90" stroke="#000" stroke-width="1.0" />
<text x="267.80" y="280.90" font-size="10" text-anchor="end" fill="#2e2424" >0.00</text>
<line x1="273.50" y1="305.40" x2="275.50" y2="305.40" stroke="#000" stroke-width="1.0" />
<text x="267.80" y="308.40" font-size="10" text-anchor="end" fill="#2e2424" >-0.02</text>
<line x1="273.50" y1="332.90" x2="275.50" y2="332.90" stroke="#000" stroke-width="1.0" />
<text x="267.80" y="335.90" font-size="10" text-anchor="end" fill="#2e2424" >-0.04</text>
<defs><linearGradient id="cb" x1="0" y1="0" x2="0" y2="1"><stop offset="0" stop-color="#cf5526"/><stop offset="0.18" stop-color="#e08a66"/><stop offset="0.35" stop-color="#efc9b8"/><stop offset="0.5" stop-color="#f7f7f7"/><stop offset="0.65" stop-color="#c6d7ec"/><stop offset="0.82" stop-color="#7aa6d6"/><stop offset="1" stop-color="#2461ab"/></linearGradient></defs>
<rect x="431.8" y="208.6" width="7.0" height="137.5" fill="url(#cb)" stroke="#222" stroke-width="1.0"/>
<line x1="438.80" y1="208.50" x2="438.80" y2="346.20" stroke="#222" stroke-width="1.0" />
<line x1="438.80" y1="208.55" x2="441.00" y2="208.55" stroke="#000" stroke-width="1.0" />
<text x="444.40" y="212.15" font-size="10" text-anchor="start" fill="#1a1a1a" >4</text>
<line x1="438.80" y1="242.95" x2="441.00" y2="242.95" stroke="#000" stroke-width="1.0" />
<text x="444.40" y="246.55" font-size="10" text-anchor="start" fill="#1a1a1a" >2</text>
<line x1="438.80" y1="277.35" x2="441.00" y2="277.35" stroke="#000" stroke-width="1.0" />
<text x="444.40" y="280.95" font-size="10" text-anchor="start" fill="#1a1a1a" >0</text>
<line x1="438.80" y1="311.75" x2="441.00" y2="311.75" stroke="#000" stroke-width="1.0" />
<text x="444.40" y="315.35" font-size="10" text-anchor="start" fill="#1a1a1a" >-2</text>
<line x1="438.80" y1="346.15" x2="441.00" y2="346.15" stroke="#000" stroke-width="1.0" />
<text x="444.40" y="349.75" font-size="10" text-anchor="start" fill="#1a1a1a" >-4</text>
<g fill="#2a2020" font-style="italic"><text x="425.7" y="200.1" font-size="9">M</text><text x="433.4" y="203.3" font-size="6.3">y</text><text x="435.0" y="196.8" font-size="5.8">O</text></g>
<path d="M517.00,213.40 L596.80,240.70 L676.60,264.60" stroke="#4a88c4" stroke-width="1.3" fill="none" stroke-linejoin="round" />
<path d="M517.00,340.20 L596.90,288.70 L676.50,279.40" stroke="#cd5e5e" stroke-width="1.3" fill="none" stroke-linejoin="round" />
<circle cx="517" cy="213.4" r="2.0" fill="#4a88c4"/>
<circle cx="596.8" cy="240.7" r="2.0" fill="#4a88c4"/>
<circle cx="676.6" cy="264.6" r="2.0" fill="#4a88c4"/>
<circle cx="517" cy="340.2" r="2.0" fill="#cd5e5e"/>
<circle cx="596.9" cy="288.7" r="2.0" fill="#cd5e5e"/>
<circle cx="676.5" cy="279.4" r="2.0" fill="#cd5e5e"/>
<rect x="509.80" y="204.90" width="174.20" height="145.50" fill="none" stroke="#111" stroke-width="1.4"/>
<line x1="509.80" y1="219.00" x2="512.80" y2="219.00" stroke="#000" stroke-width="1.2" />
<text x="506.00" y="224.10" font-size="10" text-anchor="end" fill="#1a1a1a" >0.4</text>
<line x1="509.80" y1="245.80" x2="512.80" y2="245.80" stroke="#000" stroke-width="1.2" />
<text x="506.00" y="250.90" font-size="10" text-anchor="end" fill="#1a1a1a" >0.2</text>
<line x1="509.80" y1="272.60" x2="512.80" y2="272.60" stroke="#000" stroke-width="1.2" />
<text x="506.00" y="277.70" font-size="10" text-anchor="end" fill="#1a1a1a" >0.0</text>
<line x1="509.80" y1="299.40" x2="512.80" y2="299.40" stroke="#000" stroke-width="1.2" />
<text x="506.00" y="304.50" font-size="10" text-anchor="end" fill="#1a1a1a" >-0.2</text>
<line x1="509.80" y1="326.20" x2="512.80" y2="326.20" stroke="#000" stroke-width="1.2" />
<text x="506.00" y="331.30" font-size="10" text-anchor="end" fill="#1a1a1a" >-0.4</text>
<line x1="517.00" y1="350.40" x2="517.00" y2="347.40" stroke="#000" stroke-width="1.2" />
<text x="517.00" y="362.40" font-size="10" text-anchor="middle" fill="#1a1a1a" >3</text>
<line x1="596.80" y1="350.40" x2="596.80" y2="347.40" stroke="#000" stroke-width="1.2" />
<text x="596.80" y="362.40" font-size="10" text-anchor="middle" fill="#1a1a1a" >4</text>
<line x1="676.60" y1="350.40" x2="676.60" y2="347.40" stroke="#000" stroke-width="1.2" />
<text x="676.60" y="362.40" font-size="10" text-anchor="middle" fill="#1a1a1a" >5</text>
<text x="594.10" y="374.20" font-size="10.3" text-anchor="middle" fill="#1a1a1a" >Layer number</text>
<text x="659.90" y="223.90" font-size="11.2" fill="#5b8fc9">P</text>
<path d="M671.90,223.90 L671.90,216.50" stroke="#a9c5e3" stroke-width="1.1" fill="none"/>
<path d="M670.00,217.40 L671.90,215.00 L673.80,217.40 Z" fill="#5b8fc9" stroke="none"/>
<text x="660.90" y="337.80" font-size="11.2" fill="#cf5f6b">P</text>
<path d="M673.10,329.00 L673.10,336.30" stroke="#dc8a93" stroke-width="1.1" fill="none"/>
<path d="M671.20,335.40 L673.10,337.80 L675.00,335.40 Z" fill="#cf5f6b" stroke="none"/>
<text transform="translate(480.3,276.3) rotate(-90)" font-size="10" text-anchor="middle" fill="#1a1a1a"><tspan font-style="italic">&#947;</tspan> (A<tspan font-size="6.5" dy="-3.5">-1</tspan><tspan dy="3.5">&#183;T</tspan><tspan font-size="6.5" dy="-3.5">-1</tspan><tspan dy="3.5">)</tspan></text>
</svg>
</body></html>
